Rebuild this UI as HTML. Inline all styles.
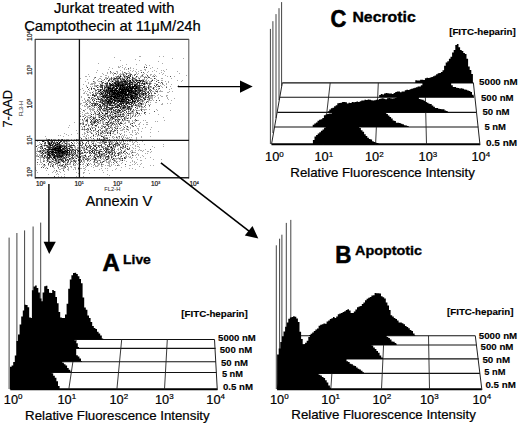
<!DOCTYPE html>
<html><head><meta charset="utf-8"><style>
html,body{margin:0;padding:0;background:#fff;}
svg{display:block;font-family:"Liberation Sans",sans-serif;}
</style></head><body>
<svg width="520" height="425" viewBox="0 0 520 425">
<rect width="520" height="425" fill="#fff"/>
<text x="54" y="13.2" font-size="14.2" stroke="#000" stroke-width="0.2" textLength="120.4" lengthAdjust="spacingAndGlyphs">Jurkat treated with</text>
<text x="24.2" y="31" font-size="14.2" stroke="#000" stroke-width="0.2" textLength="176.6" lengthAdjust="spacingAndGlyphs">Camptothecin at 11&#956;M/24h</text>
<path d="M139 56h1M140 56h1M159 56h1M163 56h1M114 57h1M172 58h1M183 58h1M135 59h1M120 60h1M139 60h1M158 61h1M98 63h1M162 63h1M126 64h1M136 64h1M145 64h1M122 65h1M146 65h1M149 65h1M118 66h1M120 66h1M144 66h1M109 67h1M118 67h1M119 67h1M122 67h1M125 67h1M130 67h1M152 67h1M112 68h1M124 68h1M130 68h1M133 68h1M150 68h1M157 68h1M108 69h1M124 69h1M126 69h1M128 69h1M136 69h1M144 69h1M145 69h1M166 69h1M97 70h1M120 70h1M130 70h1M133 70h1M140 70h1M141 70h1M145 70h1M154 70h1M161 70h1M163 70h1M116 71h1M117 71h1M122 71h1M128 71h1M132 71h1M135 71h1M138 71h1M148 71h1M152 71h1M156 71h1M164 71h1M177 71h1M96 72h1M107 72h1M110 72h1M111 72h1M113 72h1M117 72h1M122 72h1M125 72h1M129 72h1M136 72h1M147 72h1M161 72h1M102 73h1M107 73h1M110 73h1M112 73h1M117 73h1M120 73h1M122 73h1M123 73h1M125 73h1M127 73h1M128 73h1M129 73h1M130 73h1M136 73h1M138 73h1M144 73h1M159 73h1M163 73h1M179 73h1M88 74h1M103 74h1M113 74h1M116 74h1M119 74h1M120 74h1M121 74h1M122 74h1M124 74h1M129 74h1M134 74h1M137 74h1M142 74h1M143 74h1M146 74h1M150 74h1M151 74h1M154 74h1M162 74h1M105 75h1M106 75h1M113 75h1M118 75h1M124 75h1M125 75h1M129 75h1M132 75h1M141 75h1M150 75h1M153 75h1M155 75h1M165 75h1M186 75h1M85 76h1M86 76h1M89 76h1M100 76h1M101 76h1M108 76h1M115 76h1M116 76h1M119 76h1M121 76h1M123 76h1M125 76h1M128 76h1M129 76h1M132 76h1M137 76h1M140 76h1M141 76h1M142 76h1M143 76h1M145 76h1M147 76h1M148 76h1M152 76h1M153 76h1M156 76h1M167 76h1M174 76h1M94 77h1M105 77h1M106 77h1M108 77h1M113 77h1M114 77h1M117 77h1M118 77h1M120 77h1M122 77h1M125 77h1M126 77h1M133 77h1M135 77h1M136 77h1M138 77h1M140 77h1M145 77h1M80 78h1M94 78h1M99 78h1M100 78h1M105 78h1M106 78h1M109 78h1M110 78h1M112 78h1M113 78h1M121 78h1M123 78h1M124 78h1M125 78h1M126 78h1M130 78h1M135 78h1M138 78h1M144 78h1M147 78h1M150 78h1M151 78h1M155 78h1M161 78h1M162 78h1M171 78h1M87 79h1M93 79h1M98 79h1M101 79h1M106 79h1M110 79h1M115 79h1M116 79h1M118 79h1M121 79h1M127 79h1M128 79h1M129 79h1M131 79h1M133 79h1M134 79h1M139 79h1M142 79h1M143 79h1M144 79h1M146 79h1M152 79h1M156 79h1M97 80h1M102 80h1M103 80h1M111 80h1M112 80h1M113 80h1M114 80h1M116 80h1M120 80h1M122 80h1M126 80h1M128 80h1M134 80h1M145 80h1M146 80h1M148 80h1M151 80h1M154 80h1M157 80h1M161 80h1M162 80h1M177 80h1M182 80h1M85 81h1M94 81h1M98 81h1M99 81h1M100 81h1M105 81h1M110 81h1M111 81h1M113 81h1M119 81h1M131 81h1M132 81h1M137 81h1M138 81h1M139 81h1M141 81h1M145 81h1M146 81h1M147 81h1M149 81h1M150 81h1M165 81h1M168 81h1M181 81h1M88 82h1M94 82h1M95 82h1M101 82h1M106 82h1M109 82h1M111 82h1M113 82h1M123 82h1M133 82h1M140 82h1M144 82h1M145 82h1M147 82h1M149 82h1M150 82h1M159 82h1M162 82h1M168 82h1M88 83h1M91 83h1M92 83h1M93 83h1M94 83h1M95 83h1M99 83h1M101 83h1M104 83h1M113 83h1M131 83h1M133 83h1M134 83h1M135 83h1M140 83h1M145 83h1M148 83h1M151 83h1M154 83h1M155 83h1M160 83h1M166 83h1M83 84h1M90 84h1M91 84h1M92 84h1M94 84h1M101 84h1M102 84h1M105 84h1M114 84h1M133 84h1M141 84h1M145 84h1M147 84h1M150 84h1M162 84h1M163 84h1M166 84h1M171 84h1M79 85h1M86 85h1M94 85h1M95 85h1M96 85h1M98 85h1M103 85h1M104 85h1M105 85h1M108 85h1M128 85h1M144 85h1M149 85h1M158 85h1M160 85h1M164 85h1M178 85h1M86 86h1M90 86h1M92 86h1M94 86h1M95 86h1M99 86h1M105 86h1M111 86h1M112 86h1M140 86h1M145 86h1M146 86h1M149 86h1M151 86h1M157 86h1M161 86h1M166 86h1M170 86h1M177 86h1M91 87h1M98 87h1M111 87h1M118 87h1M134 87h1M142 87h1M145 87h1M146 87h1M147 87h1M149 87h1M150 87h1M151 87h1M154 87h1M156 87h1M162 87h1M82 88h1M89 88h1M105 88h1M106 88h1M118 88h1M140 88h1M141 88h1M149 88h1M152 88h1M158 88h1M171 88h1M80 89h1M94 89h1M95 89h1M99 89h1M103 89h1M105 89h1M113 89h1M136 89h1M141 89h1M143 89h1M148 89h1M149 89h1M153 89h1M154 89h1M158 89h1M169 89h1M83 90h1M89 90h1M98 90h1M99 90h1M101 90h1M120 90h1M143 90h1M144 90h1M146 90h1M150 90h1M155 90h1M157 90h1M160 90h1M85 91h1M87 91h1M93 91h1M95 91h1M100 91h1M101 91h1M103 91h1M141 91h1M145 91h1M146 91h1M147 91h1M152 91h1M153 91h1M155 91h1M159 91h1M160 91h1M161 91h1M162 91h1M169 91h1M172 91h1M79 92h1M84 92h1M89 92h1M90 92h1M95 92h1M96 92h1M97 92h1M98 92h1M102 92h1M104 92h1M136 92h1M144 92h1M150 92h1M151 92h1M154 92h1M157 92h1M167 92h1M168 92h1M83 93h1M84 93h1M86 93h1M90 93h1M93 93h1M96 93h1M98 93h1M100 93h1M104 93h1M106 93h1M127 93h1M148 93h1M87 94h1M88 94h1M95 94h1M99 94h1M103 94h1M133 94h1M138 94h1M140 94h1M144 94h1M146 94h1M151 94h1M158 94h1M87 95h1M88 95h1M90 95h1M99 95h1M100 95h1M138 95h1M141 95h1M142 95h1M144 95h1M145 95h1M147 95h1M148 95h1M150 95h1M153 95h1M154 95h1M157 95h1M160 95h1M166 95h1M167 95h1M81 96h1M95 96h1M98 96h1M99 96h1M100 96h1M126 96h1M129 96h1M141 96h1M146 96h1M149 96h1M150 96h1M151 96h1M152 96h1M155 96h1M161 96h1M162 96h1M166 96h1M81 97h1M91 97h1M93 97h1M98 97h1M99 97h1M100 97h1M112 97h1M139 97h1M140 97h1M142 97h1M144 97h1M146 97h1M149 97h1M150 97h1M151 97h1M152 97h1M154 97h1M158 97h1M167 97h1M84 98h1M89 98h1M93 98h1M94 98h1M97 98h1M100 98h1M102 98h1M103 98h1M108 98h1M113 98h1M128 98h1M129 98h1M137 98h1M140 98h1M145 98h1M148 98h1M150 98h1M151 98h1M152 98h1M158 98h1M167 98h1M174 98h1M79 99h1M84 99h1M87 99h1M88 99h1M90 99h1M93 99h1M94 99h1M97 99h1M103 99h1M104 99h1M129 99h1M130 99h1M135 99h1M137 99h1M142 99h1M148 99h1M152 99h1M168 99h1M82 100h1M85 100h1M88 100h1M89 100h1M107 100h1M111 100h1M134 100h1M136 100h1M140 100h1M141 100h1M143 100h1M144 100h1M148 100h1M149 100h1M150 100h1M151 100h1M153 100h1M171 100h1M85 101h1M86 101h1M88 101h1M89 101h1M90 101h1M97 101h1M99 101h1M101 101h1M129 101h1M130 101h1M131 101h1M140 101h1M141 101h1M143 101h1M146 101h1M148 101h1M83 102h1M84 102h1M85 102h1M87 102h1M89 102h1M93 102h1M94 102h1M96 102h1M116 102h1M133 102h1M135 102h1M137 102h1M140 102h1M142 102h1M144 102h1M148 102h1M150 102h1M155 102h1M156 102h1M80 103h1M81 103h1M89 103h1M98 103h1M101 103h1M112 103h1M117 103h1M124 103h1M133 103h1M135 103h1M139 103h1M142 103h1M143 103h1M145 103h1M162 103h1M167 103h1M170 103h1M79 104h1M80 104h1M85 104h1M86 104h1M90 104h1M96 104h1M102 104h1M105 104h1M106 104h1M108 104h1M111 104h1M112 104h1M116 104h1M128 104h1M136 104h1M137 104h1M138 104h1M139 104h1M140 104h1M142 104h1M143 104h1M145 104h1M148 104h1M150 104h1M161 104h1M162 104h1M82 105h1M84 105h1M86 105h1M89 105h1M93 105h1M99 105h1M103 105h1M108 105h1M115 105h1M116 105h1M125 105h1M126 105h1M133 105h1M134 105h1M137 105h1M139 105h1M140 105h1M141 105h1M84 106h1M85 106h1M87 106h1M88 106h1M90 106h1M92 106h1M93 106h1M94 106h1M97 106h1M102 106h1M103 106h1M105 106h1M111 106h1M112 106h1M113 106h1M118 106h1M122 106h1M126 106h1M130 106h1M136 106h1M137 106h1M138 106h1M140 106h1M142 106h1M149 106h1M87 107h1M88 107h1M91 107h1M96 107h1M99 107h1M110 107h1M121 107h1M126 107h1M130 107h1M131 107h1M132 107h1M137 107h1M139 107h1M141 107h1M142 107h1M143 107h1M145 107h1M80 108h1M87 108h1M89 108h1M90 108h1M92 108h1M93 108h1M97 108h1M100 108h1M107 108h1M114 108h1M117 108h1M119 108h1M121 108h1M125 108h1M126 108h1M136 108h1M141 108h1M81 109h1M85 109h1M89 109h1M90 109h1M91 109h1M92 109h1M93 109h1M94 109h1M97 109h1M98 109h1M103 109h1M104 109h1M105 109h1M112 109h1M117 109h1M119 109h1M122 109h1M123 109h1M124 109h1M125 109h1M127 109h1M129 109h1M131 109h1M135 109h1M140 109h1M142 109h1M143 109h1M144 109h1M145 109h1M146 109h1M149 109h1M156 109h1M84 110h1M90 110h1M92 110h1M93 110h1M99 110h1M102 110h1M106 110h1M108 110h1M110 110h1M111 110h1M123 110h1M128 110h1M132 110h1M133 110h1M134 110h1M137 110h1M138 110h1M139 110h1M144 110h1M157 110h1M170 110h1M80 111h1M84 111h1M90 111h1M96 111h1M100 111h1M101 111h1M103 111h1M104 111h1M105 111h1M106 111h1M108 111h1M112 111h1M113 111h1M114 111h1M118 111h1M120 111h1M121 111h1M129 111h1M131 111h1M133 111h1M136 111h1M142 111h1M82 112h1M87 112h1M91 112h1M94 112h1M95 112h1M97 112h1M102 112h1M105 112h1M108 112h1M109 112h1M110 112h1M112 112h1M114 112h1M115 112h1M116 112h1M119 112h1M128 112h1M130 112h1M131 112h1M132 112h1M133 112h1M80 113h1M85 113h1M86 113h1M87 113h1M88 113h1M90 113h1M94 113h1M98 113h1M103 113h1M112 113h1M116 113h1M117 113h1M118 113h1M120 113h1M122 113h1M125 113h1M131 113h1M132 113h1M133 113h1M135 113h1M138 113h1M141 113h1M149 113h1M82 114h1M84 114h1M95 114h1M96 114h1M99 114h1M100 114h1M101 114h1M103 114h1M104 114h1M106 114h1M107 114h1M109 114h1M110 114h1M111 114h1M113 114h1M115 114h1M116 114h1M117 114h1M119 114h1M121 114h1M124 114h1M126 114h1M128 114h1M130 114h1M133 114h1M135 114h1M136 114h1M139 114h1M145 114h1M158 114h1M80 115h1M84 115h1M85 115h1M88 115h1M89 115h1M90 115h1M95 115h1M98 115h1M100 115h1M103 115h1M105 115h1M108 115h1M112 115h1M114 115h1M116 115h1M117 115h1M118 115h1M119 115h1M122 115h1M123 115h1M124 115h1M126 115h1M127 115h1M130 115h1M132 115h1M133 115h1M138 115h1M140 115h1M82 116h1M86 116h1M87 116h1M90 116h1M93 116h1M95 116h1M98 116h1M99 116h1M100 116h1M103 116h1M104 116h1M106 116h1M108 116h1M109 116h1M110 116h1M112 116h1M114 116h1M117 116h1M120 116h1M125 116h1M126 116h1M130 116h1M134 116h1M135 116h1M137 116h1M79 117h1M87 117h1M88 117h1M89 117h1M92 117h1M94 117h1M98 117h1M100 117h1M105 117h1M107 117h1M110 117h1M113 117h1M114 117h1M120 117h1M121 117h1M125 117h1M126 117h1M128 117h1M130 117h1M131 117h1M163 117h1M87 118h1M89 118h1M91 118h1M95 118h1M102 118h1M103 118h1M105 118h1M111 118h1M114 118h1M117 118h1M118 118h1M121 118h1M123 118h1M125 118h1M126 118h1M128 118h1M80 119h1M84 119h1M86 119h1M93 119h1M94 119h1M95 119h1M97 119h1M98 119h1M101 119h1M105 119h1M110 119h1M111 119h1M114 119h1M117 119h1M120 119h1M125 119h1M79 120h1M82 120h1M83 120h1M85 120h1M93 120h1M94 120h1M98 120h1M101 120h1M102 120h1M107 120h1M110 120h1M111 120h1M118 120h1M119 120h1M123 120h1M124 120h1M125 120h1M126 120h1M128 120h1M129 120h1M132 120h1M134 120h1M135 120h1M137 120h1M138 120h1M143 120h1M145 120h1M164 120h1M79 121h1M83 121h1M85 121h1M86 121h1M90 121h1M92 121h1M93 121h1M97 121h1M98 121h1M99 121h1M100 121h1M102 121h1M103 121h1M109 121h1M111 121h1M114 121h1M115 121h1M116 121h1M117 121h1M121 121h1M123 121h1M128 121h1M129 121h1M132 121h1M135 121h1M155 121h1M157 121h1M74 122h1M82 122h1M83 122h1M87 122h1M91 122h1M92 122h1M100 122h1M102 122h1M103 122h1M105 122h1M112 122h1M113 122h1M115 122h1M117 122h1M118 122h1M121 122h1M125 122h1M128 122h1M129 122h1M133 122h1M134 122h1M140 122h1M146 122h1M147 122h1M81 123h1M82 123h1M87 123h1M92 123h1M93 123h1M96 123h1M98 123h1M99 123h1M100 123h1M102 123h1M103 123h1M105 123h1M109 123h1M111 123h1M114 123h1M119 123h1M122 123h1M124 123h1M125 123h1M130 123h1M131 123h1M134 123h1M139 123h1M80 124h1M82 124h1M85 124h1M88 124h1M90 124h1M93 124h1M104 124h1M105 124h1M109 124h1M111 124h1M115 124h1M116 124h1M117 124h1M123 124h1M138 124h1M139 124h1M143 124h1M146 124h1M147 124h1M69 125h1M79 125h1M85 125h1M86 125h1M89 125h1M94 125h1M101 125h1M102 125h1M106 125h1M108 125h1M110 125h1M113 125h1M115 125h1M117 125h1M125 125h1M131 125h1M81 126h1M83 126h1M88 126h1M91 126h1M95 126h1M96 126h1M98 126h1M101 126h1M102 126h1M104 126h1M109 126h1M110 126h1M111 126h1M115 126h1M116 126h1M117 126h1M118 126h1M123 126h1M126 126h1M132 126h1M136 126h1M139 126h1M68 127h1M82 127h1M84 127h1M89 127h1M91 127h1M92 127h1M93 127h1M94 127h1M100 127h1M102 127h1M105 127h1M108 127h1M111 127h1M112 127h1M115 127h1M117 127h1M121 127h1M127 127h1M128 127h1M130 127h1M145 127h1M151 127h1M82 128h1M84 128h1M88 128h1M102 128h1M105 128h1M106 128h1M108 128h1M111 128h1M112 128h1M116 128h1M119 128h1M120 128h1M123 128h1M126 128h1M130 128h1M137 128h1M138 128h1M142 128h1M81 129h1M83 129h1M85 129h1M87 129h1M99 129h1M100 129h1M105 129h1M107 129h1M114 129h1M116 129h1M122 129h1M123 129h1M124 129h1M126 129h1M128 129h1M138 129h1M150 129h1M76 130h1M84 130h1M87 130h1M88 130h1M94 130h1M95 130h1M102 130h1M103 130h1M104 130h1M105 130h1M107 130h1M109 130h1M110 130h1M120 130h1M121 130h1M122 130h1M128 130h1M132 130h1M134 130h1M135 130h1M138 130h1M86 131h1M87 131h1M89 131h1M90 131h1M93 131h1M96 131h1M98 131h1M101 131h1M105 131h1M106 131h1M108 131h1M111 131h1M112 131h1M114 131h1M117 131h1M124 131h1M126 131h1M132 131h1M141 131h1M158 131h1M84 132h1M88 132h1M90 132h1M91 132h1M95 132h1M100 132h1M101 132h1M103 132h1M105 132h1M106 132h1M108 132h1M109 132h1M113 132h1M124 132h1M129 132h1M132 132h1M135 132h1M137 132h1M150 132h1M64 133h1M77 133h1M79 133h1M84 133h1M85 133h1M92 133h1M98 133h1M103 133h1M104 133h1M105 133h1M108 133h1M109 133h1M112 133h1M113 133h1M117 133h1M119 133h1M121 133h1M136 133h1M138 133h1M66 134h1M71 134h1M82 134h1M84 134h1M87 134h1M93 134h1M95 134h1M96 134h1M100 134h1M102 134h1M110 134h1M114 134h1M115 134h1M124 134h1M130 134h1M131 134h1M135 134h1M136 134h1M58 135h1M60 135h1M68 135h1M86 135h1M88 135h1M97 135h1M98 135h1M99 135h1M100 135h1M101 135h1M104 135h1M105 135h1M108 135h1M122 135h1M124 135h1M126 135h1M132 135h1M45 136h1M63 136h1M83 136h1M84 136h1M86 136h1M91 136h1M93 136h1M95 136h1M97 136h1M103 136h1M104 136h1M112 136h1M113 136h1M116 136h1M118 136h1M121 136h1M123 136h1M141 136h1M150 136h1M80 137h1M85 137h1M88 137h1M104 137h1M105 137h1M106 137h1M107 137h1M109 137h1M112 137h1M114 137h1M117 137h1M119 137h1M121 137h1M123 137h1M125 137h1M127 137h1M129 137h1M131 137h1M136 137h1M141 137h1M46 138h1M85 138h1M88 138h1M91 138h1M103 138h1M105 138h1M113 138h1M117 138h1M119 138h1M126 138h1M127 138h1M128 138h1M136 138h1M46 139h1M47 139h1M53 139h1M54 139h1M55 139h1M59 139h1M64 139h1M66 139h1M67 139h1M68 139h1M71 139h1M74 139h1M77 139h1M78 139h1M81 139h1M83 139h1M86 139h1M94 139h1M98 139h1M100 139h1M102 139h1M105 139h1M107 139h1M114 139h1M116 139h1M118 139h1M123 139h1M129 139h1M131 139h1M132 139h1M136 139h1M36 140h1M39 140h1M41 140h1M42 140h1M46 140h1M48 140h1M51 140h1M53 140h1M55 140h1M57 140h1M60 140h1M62 140h1M63 140h1M65 140h1M68 140h1M71 140h1M74 140h1M77 140h1M84 140h1M88 140h1M93 140h1M98 140h1M104 140h1M105 140h1M112 140h1M114 140h1M121 140h1M126 140h1M127 140h1M129 140h1M131 140h1M133 140h1M138 140h1M147 140h1M37 141h1M44 141h1M50 141h1M56 141h1M65 141h1M67 141h1M68 141h1M69 141h1M73 141h1M76 141h1M80 141h1M81 141h1M82 141h1M87 141h1M91 141h1M92 141h1M93 141h1M94 141h1M96 141h1M100 141h1M104 141h1M105 141h1M106 141h1M108 141h1M109 141h1M111 141h1M112 141h1M114 141h1M119 141h1M121 141h1M125 141h1M127 141h1M129 141h1M130 141h1M132 141h1M135 141h1M136 141h1M142 141h1M39 142h1M44 142h1M47 142h1M50 142h1M55 142h1M62 142h1M63 142h1M66 142h1M67 142h1M74 142h1M77 142h1M80 142h1M88 142h1M91 142h1M93 142h1M97 142h1M98 142h1M99 142h1M100 142h1M101 142h1M102 142h1M103 142h1M108 142h1M110 142h1M111 142h1M112 142h1M113 142h1M115 142h1M116 142h1M119 142h1M120 142h1M121 142h1M123 142h1M132 142h1M134 142h1M137 142h1M40 143h1M42 143h1M47 143h1M56 143h1M61 143h1M64 143h1M67 143h1M68 143h1M69 143h1M74 143h1M76 143h1M78 143h1M82 143h1M85 143h1M86 143h1M95 143h1M99 143h1M100 143h1M102 143h1M103 143h1M112 143h1M118 143h1M123 143h1M125 143h1M127 143h1M133 143h1M39 144h1M40 144h1M44 144h1M45 144h1M51 144h1M61 144h1M63 144h1M64 144h1M67 144h1M68 144h1M71 144h1M73 144h1M79 144h1M80 144h1M89 144h1M91 144h1M93 144h1M95 144h1M96 144h1M104 144h1M106 144h1M108 144h1M111 144h1M112 144h1M113 144h1M116 144h1M117 144h1M121 144h1M123 144h1M124 144h1M126 144h1M127 144h1M128 144h1M132 144h1M133 144h1M137 144h1M139 144h1M144 144h1M163 144h1M37 145h1M38 145h1M41 145h1M42 145h1M43 145h1M48 145h1M53 145h1M65 145h1M67 145h1M77 145h1M79 145h1M82 145h1M86 145h1M87 145h1M90 145h1M96 145h1M97 145h1M105 145h1M112 145h1M116 145h1M118 145h1M122 145h1M123 145h1M130 145h1M135 145h1M42 146h1M44 146h1M46 146h1M55 146h1M67 146h1M71 146h1M74 146h1M75 146h1M79 146h1M81 146h1M83 146h1M84 146h1M89 146h1M99 146h1M102 146h1M103 146h1M104 146h1M110 146h1M114 146h1M117 146h1M120 146h1M122 146h1M135 146h1M137 146h1M138 146h1M152 146h1M163 146h1M38 147h1M39 147h1M40 147h1M41 147h1M46 147h1M62 147h1M63 147h1M65 147h1M67 147h1M69 147h1M74 147h1M75 147h1M77 147h1M78 147h1M80 147h1M81 147h1M83 147h1M84 147h1M86 147h1M88 147h1M89 147h1M97 147h1M101 147h1M103 147h1M106 147h1M107 147h1M108 147h1M112 147h1M113 147h1M114 147h1M115 147h1M122 147h1M123 147h1M124 147h1M129 147h1M132 147h1M139 147h1M154 147h1M37 148h1M41 148h1M51 148h1M71 148h1M72 148h1M75 148h1M77 148h1M78 148h1M80 148h1M82 148h1M83 148h1M89 148h1M94 148h1M104 148h1M108 148h1M110 148h1M111 148h1M113 148h1M114 148h1M118 148h1M120 148h1M123 148h1M126 148h1M133 148h1M135 148h1M37 149h1M41 149h1M65 149h1M71 149h1M74 149h1M75 149h1M77 149h1M80 149h1M83 149h1M84 149h1M85 149h1M87 149h1M92 149h1M96 149h1M99 149h1M117 149h1M118 149h1M125 149h1M129 149h1M139 149h1M145 149h1M37 150h1M39 150h1M41 150h1M45 150h1M46 150h1M49 150h1M50 150h1M63 150h1M73 150h1M79 150h1M80 150h1M83 150h1M87 150h1M88 150h1M94 150h1M98 150h1M99 150h1M100 150h1M107 150h1M108 150h1M110 150h1M114 150h1M118 150h1M124 150h1M125 150h1M131 150h1M132 150h1M135 150h1M138 150h1M140 150h1M141 150h1M143 150h1M36 151h1M37 151h1M41 151h1M42 151h1M44 151h1M45 151h1M46 151h1M54 151h1M72 151h1M77 151h1M84 151h1M85 151h1M88 151h1M96 151h1M98 151h1M102 151h1M103 151h1M107 151h1M110 151h1M112 151h1M116 151h1M120 151h1M121 151h1M123 151h1M125 151h1M130 151h1M132 151h1M142 151h1M147 151h1M148 151h1M151 151h1M35 152h1M39 152h1M40 152h1M41 152h1M44 152h1M50 152h1M70 152h1M72 152h1M73 152h1M79 152h1M80 152h1M81 152h1M86 152h1M93 152h1M97 152h1M102 152h1M107 152h1M111 152h1M113 152h1M115 152h1M118 152h1M120 152h1M131 152h1M133 152h1M134 152h1M135 152h1M150 152h1M36 153h1M40 153h1M42 153h1M44 153h1M46 153h1M54 153h1M68 153h1M70 153h1M72 153h1M74 153h1M77 153h1M78 153h1M83 153h1M86 153h1M90 153h1M95 153h1M96 153h1M100 153h1M101 153h1M102 153h1M106 153h1M107 153h1M108 153h1M111 153h1M114 153h1M119 153h1M120 153h1M121 153h1M122 153h1M124 153h1M125 153h1M129 153h1M131 153h1M137 153h1M145 153h1M147 153h1M37 154h1M39 154h1M43 154h1M46 154h1M50 154h1M71 154h1M73 154h1M75 154h1M76 154h1M77 154h1M79 154h1M85 154h1M90 154h1M94 154h1M97 154h1M100 154h1M103 154h1M104 154h1M105 154h1M109 154h1M110 154h1M119 154h1M120 154h1M125 154h1M128 154h1M129 154h1M132 154h1M136 154h1M138 154h1M36 155h1M37 155h1M39 155h1M40 155h1M51 155h1M65 155h1M67 155h1M75 155h1M79 155h1M81 155h1M82 155h1M83 155h1M89 155h1M92 155h1M95 155h1M96 155h1M97 155h1M100 155h1M102 155h1M103 155h1M105 155h1M110 155h1M111 155h1M113 155h1M115 155h1M116 155h1M117 155h1M121 155h1M123 155h1M126 155h1M133 155h1M135 155h1M138 155h1M142 155h1M36 156h1M37 156h1M40 156h1M41 156h1M45 156h1M46 156h1M51 156h1M52 156h1M66 156h1M67 156h1M68 156h1M70 156h1M74 156h1M75 156h1M76 156h1M78 156h1M81 156h1M82 156h1M83 156h1M86 156h1M89 156h1M91 156h1M93 156h1M96 156h1M99 156h1M101 156h1M102 156h1M103 156h1M104 156h1M105 156h1M109 156h1M112 156h1M113 156h1M120 156h1M125 156h1M126 156h1M128 156h1M130 156h1M143 156h1M39 157h1M40 157h1M41 157h1M42 157h1M44 157h1M45 157h1M56 157h1M62 157h1M65 157h1M67 157h1M73 157h1M74 157h1M75 157h1M77 157h1M79 157h1M82 157h1M86 157h1M88 157h1M90 157h1M93 157h1M97 157h1M98 157h1M99 157h1M101 157h1M103 157h1M106 157h1M107 157h1M109 157h1M112 157h1M118 157h1M120 157h1M125 157h1M126 157h1M129 157h1M130 157h1M132 157h1M136 157h1M140 157h1M150 157h1M40 158h1M43 158h1M46 158h1M51 158h1M53 158h1M56 158h1M58 158h1M59 158h1M61 158h1M66 158h1M71 158h1M75 158h1M79 158h1M80 158h1M82 158h1M83 158h1M84 158h1M85 158h1M86 158h1M88 158h1M89 158h1M90 158h1M92 158h1M93 158h1M98 158h1M102 158h1M103 158h1M107 158h1M109 158h1M111 158h1M114 158h1M115 158h1M116 158h1M117 158h1M118 158h1M120 158h1M121 158h1M131 158h1M145 158h1M37 159h1M38 159h1M40 159h1M43 159h1M48 159h1M49 159h1M50 159h1M57 159h1M63 159h1M66 159h1M68 159h1M70 159h1M71 159h1M72 159h1M74 159h1M82 159h1M87 159h1M89 159h1M91 159h1M92 159h1M93 159h1M96 159h1M101 159h1M103 159h1M104 159h1M108 159h1M110 159h1M113 159h1M114 159h1M116 159h1M119 159h1M120 159h1M122 159h1M137 159h1M153 159h1M161 159h1M35 160h1M40 160h1M43 160h1M44 160h1M46 160h1M48 160h1M51 160h1M53 160h1M54 160h1M57 160h1M59 160h1M60 160h1M67 160h1M70 160h1M71 160h1M75 160h1M76 160h1M79 160h1M80 160h1M83 160h1M84 160h1M88 160h1M95 160h1M96 160h1M97 160h1M98 160h1M100 160h1M104 160h1M105 160h1M106 160h1M109 160h1M110 160h1M113 160h1M115 160h1M120 160h1M121 160h1M124 160h1M132 160h1M140 160h1M141 160h1M40 161h1M44 161h1M48 161h1M50 161h1M51 161h1M53 161h1M55 161h1M57 161h1M59 161h1M60 161h1M61 161h1M65 161h1M67 161h1M70 161h1M72 161h1M73 161h1M76 161h1M80 161h1M83 161h1M84 161h1M87 161h1M89 161h1M93 161h1M100 161h1M102 161h1M104 161h1M106 161h1M108 161h1M109 161h1M110 161h1M114 161h1M115 161h1M116 161h1M117 161h1M119 161h1M126 161h1M132 161h1M134 161h1M40 162h1M41 162h1M46 162h1M51 162h1M53 162h1M55 162h1M56 162h1M57 162h1M60 162h1M64 162h1M65 162h1M68 162h1M73 162h1M82 162h1M84 162h1M93 162h1M94 162h1M95 162h1M97 162h1M101 162h1M106 162h1M107 162h1M108 162h1M109 162h1M111 162h1M122 162h1M130 162h1M134 162h1M136 162h1M42 163h1M51 163h1M52 163h1M55 163h1M58 163h1M60 163h1M65 163h1M66 163h1M67 163h1M69 163h1M70 163h1M73 163h1M74 163h1M76 163h1M78 163h1M79 163h1M83 163h1M86 163h1M90 163h1M94 163h1M97 163h1M98 163h1M99 163h1M101 163h1M108 163h1M109 163h1M114 163h1M117 163h1M121 163h1M135 163h1M141 163h1M37 164h1M39 164h1M41 164h1M43 164h1M50 164h1M51 164h1M57 164h1M59 164h1M60 164h1M62 164h1M66 164h1M68 164h1M69 164h1M70 164h1M75 164h1M77 164h1M82 164h1M83 164h1M89 164h1M91 164h1M98 164h1M99 164h1M102 164h1M103 164h1M109 164h1M111 164h1M113 164h1M118 164h1M132 164h1M134 164h1M137 164h1M140 164h1M43 165h1M44 165h1M45 165h1M48 165h1M50 165h1M53 165h1M57 165h1M58 165h1M60 165h1M64 165h1M65 165h1M66 165h1M73 165h1M74 165h1M75 165h1M79 165h1M85 165h1M88 165h1M93 165h1M95 165h1M97 165h1M98 165h1M101 165h1M105 165h1M107 165h1M108 165h1M109 165h1M111 165h1M115 165h1M118 165h1M119 165h1M129 165h1M130 165h1M150 165h1M153 165h1M42 166h1M44 166h1M53 166h1M57 166h1M60 166h1M61 166h1M62 166h1M63 166h1M65 166h1M70 166h1M71 166h1M83 166h1M86 166h1M91 166h1M95 166h1M96 166h1M97 166h1M101 166h1M102 166h1M109 166h1M110 166h1M125 166h1M139 166h1M35 167h1M46 167h1M53 167h1M63 167h1M64 167h1M68 167h1M71 167h1M74 167h1M75 167h1M78 167h1M85 167h1M93 167h1M121 167h1M143 167h1M35 168h1M45 168h1M54 168h1M58 168h1M61 168h1M62 168h1M63 168h1M64 168h1M68 168h1M75 168h1M80 168h1M81 168h1M83 168h1M84 168h1M101 168h1M105 168h1M107 168h1M116 168h1M129 168h1M132 168h1M35 169h1M59 169h1M60 169h1M63 169h1M67 169h1M68 169h1M73 169h1M75 169h1M78 169h1M85 169h1M99 169h1M115 169h1M135 169h1M36 170h1M46 170h1M54 170h1M68 170h1M84 170h1M88 170h1M94 170h1M102 170h1M107 170h1M112 170h1M120 170h1M53 171h1M56 171h1M57 171h1M59 171h1M64 171h1M37 172h1M52 172h1M55 172h1M60 172h1M76 172h1M83 172h1M84 172h1M103 172h1M57 173h1M78 173h1M79 173h1M83 173h1M89 173h1M48 174h1M56 174h1M58 174h1M64 174h1M107 174h1M109 175h1M58 176h1M61 176h1M64 176h1M76 176h1M83 176h1M52 177h1M54 177h1M65 177h1M66 177h1M76 177h1M87 177h1M104 177h1" stroke="#aaaaaa" stroke-width="1" transform="translate(0,0.5)"/>
<path d="M144 67h1M128 68h1M110 71h1M124 72h1M141 72h1M143 72h1M114 73h1M115 73h1M126 73h1M123 74h1M126 74h1M130 74h1M131 74h1M135 74h1M120 75h1M123 75h1M134 75h1M142 75h1M147 75h1M117 76h1M118 76h1M127 76h1M154 76h1M170 76h1M95 77h1M111 77h1M116 77h1M124 77h1M127 77h1M144 77h1M146 77h1M148 77h1M149 77h1M107 78h1M111 78h1M116 78h1M117 78h1M119 78h1M120 78h1M122 78h1M129 78h1M132 78h1M133 78h1M134 78h1M139 78h1M104 79h1M109 79h1M111 79h1M114 79h1M117 79h1M122 79h1M135 79h1M136 79h1M109 80h1M115 80h1M117 80h1M118 80h1M121 80h1M123 80h1M124 80h1M133 80h1M135 80h1M138 80h1M140 80h1M142 80h1M158 80h1M93 81h1M108 81h1M115 81h1M120 81h1M126 81h1M127 81h1M128 81h1M129 81h1M134 81h1M142 81h1M144 81h1M151 81h1M156 81h1M102 82h1M103 82h1M107 82h1M116 82h1M134 82h1M142 82h1M158 82h1M161 82h1M102 83h1M106 83h1M110 83h1M116 83h1M120 83h1M121 83h1M124 83h1M127 83h1M130 83h1M136 83h1M141 83h1M143 83h1M147 83h1M149 83h1M150 83h1M162 83h1M100 84h1M106 84h1M107 84h1M109 84h1M112 84h1M128 84h1M137 84h1M139 84h1M143 84h1M149 84h1M156 84h1M157 84h1M97 85h1M100 85h1M107 85h1M109 85h1M125 85h1M132 85h1M136 85h1M137 85h1M141 85h1M148 85h1M154 85h1M156 85h1M96 86h1M100 86h1M101 86h1M102 86h1M104 86h1M107 86h1M108 86h1M109 86h1M114 86h1M117 86h1M119 86h1M121 86h1M125 86h1M131 86h1M138 86h1M143 86h1M148 86h1M150 86h1M155 86h1M158 86h1M100 87h1M101 87h1M104 87h1M106 87h1M128 87h1M140 87h1M141 87h1M144 87h1M153 87h1M166 87h1M93 88h1M94 88h1M107 88h1M114 88h1M144 88h1M146 88h1M159 88h1M88 89h1M91 89h1M97 89h1M98 89h1M101 89h1M102 89h1M104 89h1M107 89h1M109 89h1M129 89h1M137 89h1M140 89h1M142 89h1M144 89h1M145 89h1M150 89h1M156 89h1M95 90h1M96 90h1M105 90h1M118 90h1M134 90h1M137 90h1M145 90h1M149 90h1M151 90h1M113 91h1M115 91h1M137 91h1M138 91h1M142 91h1M143 91h1M148 91h1M150 91h1M156 91h1M157 91h1M92 92h1M101 92h1M106 92h1M108 92h1M110 92h1M116 92h1M141 92h1M142 92h1M147 92h1M95 93h1M97 93h1M103 93h1M110 93h1M137 93h1M139 93h1M140 93h1M141 93h1M142 93h1M144 93h1M151 93h1M154 93h1M155 93h1M92 94h1M93 94h1M96 94h1M101 94h1M104 94h1M105 94h1M123 94h1M132 94h1M134 94h1M141 94h1M93 95h1M95 95h1M96 95h1M102 95h1M108 95h1M110 95h1M113 95h1M137 95h1M140 95h1M146 95h1M149 95h1M151 95h1M152 95h1M97 96h1M104 96h1M106 96h1M107 96h1M108 96h1M133 96h1M136 96h1M142 96h1M88 97h1M89 97h1M92 97h1M97 97h1M102 97h1M120 97h1M124 97h1M135 97h1M141 97h1M143 97h1M147 97h1M148 97h1M91 98h1M95 98h1M104 98h1M109 98h1M124 98h1M127 98h1M138 98h1M144 98h1M149 98h1M92 99h1M100 99h1M101 99h1M106 99h1M112 99h1M115 99h1M116 99h1M118 99h1M120 99h1M125 99h1M136 99h1M138 99h1M141 99h1M147 99h1M149 99h1M87 100h1M92 100h1M100 100h1M101 100h1M103 100h1M104 100h1M113 100h1M120 100h1M133 100h1M138 100h1M139 100h1M142 100h1M156 100h1M159 100h1M93 101h1M98 101h1M102 101h1M104 101h1M105 101h1M106 101h1M116 101h1M128 101h1M138 101h1M142 101h1M147 101h1M90 102h1M99 102h1M100 102h1M101 102h1M104 102h1M105 102h1M106 102h1M109 102h1M112 102h1M121 102h1M123 102h1M125 102h1M129 102h1M136 102h1M139 102h1M86 103h1M91 103h1M92 103h1M93 103h1M94 103h1M96 103h1M97 103h1M104 103h1M105 103h1M106 103h1M114 103h1M115 103h1M125 103h1M128 103h1M132 103h1M87 104h1M92 104h1M94 104h1M100 104h1M114 104h1M117 104h1M118 104h1M119 104h1M123 104h1M125 104h1M129 104h1M131 104h1M135 104h1M91 105h1M92 105h1M95 105h1M96 105h1M104 105h1M105 105h1M106 105h1M107 105h1M113 105h1M114 105h1M121 105h1M122 105h1M123 105h1M131 105h1M132 105h1M136 105h1M138 105h1M145 105h1M149 105h1M89 106h1M101 106h1M104 106h1M106 106h1M117 106h1M120 106h1M121 106h1M123 106h1M124 106h1M127 106h1M128 106h1M132 106h1M139 106h1M141 106h1M144 106h1M94 107h1M100 107h1M101 107h1M104 107h1M107 107h1M109 107h1M111 107h1M114 107h1M116 107h1M118 107h1M122 107h1M127 107h1M129 107h1M99 108h1M103 108h1M104 108h1M105 108h1M106 108h1M109 108h1M122 108h1M124 108h1M128 108h1M129 108h1M130 108h1M131 108h1M137 108h1M99 109h1M100 109h1M102 109h1M107 109h1M108 109h1M110 109h1M113 109h1M115 109h1M116 109h1M126 109h1M133 109h1M141 109h1M83 110h1M97 110h1M100 110h1M103 110h1M105 110h1M107 110h1M114 110h1M115 110h1M117 110h1M118 110h1M122 110h1M125 110h1M130 110h1M136 110h1M94 111h1M98 111h1M109 111h1M115 111h1M116 111h1M117 111h1M122 111h1M123 111h1M126 111h1M128 111h1M154 111h1M99 112h1M101 112h1M107 112h1M113 112h1M120 112h1M121 112h1M124 112h1M126 112h1M136 112h1M137 112h1M144 112h1M145 112h1M95 113h1M110 113h1M123 113h1M127 113h1M128 113h1M129 113h1M130 113h1M139 113h1M144 113h1M93 114h1M97 114h1M98 114h1M105 114h1M112 114h1M118 114h1M122 114h1M123 114h1M99 115h1M102 115h1M107 115h1M109 115h1M115 115h1M120 115h1M135 115h1M80 116h1M83 116h1M105 116h1M111 116h1M122 116h1M132 116h1M85 117h1M90 117h1M93 117h1M95 117h1M103 117h1M108 117h1M115 117h1M124 117h1M84 118h1M94 118h1M108 118h1M110 118h1M112 118h1M124 118h1M130 118h1M82 119h1M87 119h1M90 119h1M92 119h1M102 119h1M103 119h1M106 119h1M109 119h1M112 119h1M115 119h1M116 119h1M118 119h1M124 119h1M135 119h1M87 120h1M104 120h1M109 120h1M117 120h1M122 120h1M127 120h1M87 121h1M91 121h1M95 121h1M96 121h1M113 121h1M93 122h1M95 122h1M97 122h1M98 122h1M107 122h1M108 122h1M110 122h1M111 122h1M120 122h1M80 123h1M83 123h1M91 123h1M94 123h1M107 123h1M110 123h1M112 123h1M113 123h1M116 123h1M118 123h1M120 123h1M83 124h1M86 124h1M91 124h1M92 124h1M97 124h1M103 124h1M106 124h1M107 124h1M108 124h1M112 124h1M114 124h1M130 124h1M88 125h1M92 125h1M107 125h1M111 125h1M120 125h1M132 125h1M135 125h1M103 126h1M105 126h1M133 126h1M98 127h1M110 127h1M114 127h1M124 127h1M87 128h1M90 128h1M92 128h1M95 128h1M101 128h1M107 128h1M109 128h1M115 128h1M82 129h1M84 129h1M86 129h1M88 129h1M95 129h1M106 129h1M112 129h1M127 129h1M91 130h1M93 130h1M100 130h1M106 130h1M111 130h1M114 130h1M115 130h1M117 130h1M97 131h1M102 131h1M104 131h1M110 131h1M113 131h1M87 132h1M98 132h1M102 132h1M107 132h1M110 132h1M117 132h1M91 133h1M96 133h1M100 133h1M101 133h1M120 134h1M106 135h1M110 135h1M102 136h1M119 136h1M90 137h1M116 137h1M81 138h1M86 138h1M93 138h1M97 138h1M99 138h1M104 138h1M106 138h1M107 138h1M122 138h1M48 139h1M49 139h1M51 139h1M58 139h1M61 139h1M76 139h1M97 139h1M99 139h1M101 139h1M103 139h1M104 139h1M109 139h1M122 139h1M130 139h1M38 140h1M44 140h1M45 140h1M56 140h1M61 140h1M64 140h1M78 140h1M91 140h1M95 140h1M99 140h1M109 140h1M110 140h1M113 140h1M117 140h1M47 141h1M51 141h1M54 141h1M58 141h1M63 141h1M64 141h1M66 141h1M88 141h1M102 141h1M103 141h1M110 141h1M116 141h1M123 141h1M52 142h1M53 142h1M54 142h1M56 142h1M60 142h1M64 142h1M86 142h1M104 142h1M106 142h1M109 142h1M117 142h1M44 143h1M45 143h1M50 143h1M54 143h1M57 143h1M62 143h1M66 143h1M79 143h1M80 143h1M83 143h1M88 143h1M92 143h1M93 143h1M104 143h1M111 143h1M115 143h1M116 143h1M120 143h1M124 143h1M48 144h1M53 144h1M58 144h1M60 144h1M66 144h1M69 144h1M82 144h1M85 144h1M101 144h1M105 144h1M110 144h1M115 144h1M118 144h1M119 144h1M122 144h1M45 145h1M47 145h1M49 145h1M56 145h1M57 145h1M58 145h1M62 145h1M63 145h1M64 145h1M69 145h1M70 145h1M72 145h1M74 145h1M80 145h1M81 145h1M94 145h1M95 145h1M98 145h1M99 145h1M100 145h1M101 145h1M109 145h1M115 145h1M117 145h1M119 145h1M125 145h1M40 146h1M47 146h1M48 146h1M49 146h1M50 146h1M52 146h1M61 146h1M63 146h1M66 146h1M69 146h1M70 146h1M86 146h1M88 146h1M90 146h1M91 146h1M94 146h1M101 146h1M107 146h1M109 146h1M111 146h1M115 146h1M125 146h1M127 146h1M42 147h1M47 147h1M52 147h1M54 147h1M70 147h1M72 147h1M82 147h1M90 147h1M93 147h1M99 147h1M102 147h1M105 147h1M110 147h1M120 147h1M121 147h1M125 147h1M40 148h1M44 148h1M48 148h1M50 148h1M64 148h1M66 148h1M67 148h1M68 148h1M84 148h1M86 148h1M92 148h1M93 148h1M103 148h1M105 148h1M106 148h1M107 148h1M122 148h1M127 148h1M129 148h1M43 149h1M45 149h1M46 149h1M66 149h1M69 149h1M70 149h1M76 149h1M91 149h1M95 149h1M100 149h1M101 149h1M103 149h1M105 149h1M106 149h1M108 149h1M109 149h1M111 149h1M112 149h1M120 149h1M127 149h1M128 149h1M150 149h1M40 150h1M42 150h1M43 150h1M44 150h1M47 150h1M51 150h1M53 150h1M64 150h1M66 150h1M69 150h1M70 150h1M71 150h1M72 150h1M74 150h1M78 150h1M84 150h1M89 150h1M90 150h1M93 150h1M95 150h1M96 150h1M97 150h1M111 150h1M112 150h1M113 150h1M121 150h1M38 151h1M39 151h1M43 151h1M48 151h1M56 151h1M73 151h1M80 151h1M89 151h1M100 151h1M105 151h1M106 151h1M108 151h1M109 151h1M111 151h1M114 151h1M46 152h1M47 152h1M68 152h1M74 152h1M75 152h1M77 152h1M82 152h1M85 152h1M89 152h1M90 152h1M94 152h1M106 152h1M109 152h1M112 152h1M114 152h1M119 152h1M121 152h1M126 152h1M132 152h1M41 153h1M45 153h1M47 153h1M51 153h1M66 153h1M71 153h1M73 153h1M79 153h1M80 153h1M81 153h1M82 153h1M89 153h1M91 153h1M93 153h1M98 153h1M103 153h1M104 153h1M115 153h1M117 153h1M127 153h1M42 154h1M60 154h1M61 154h1M64 154h1M65 154h1M68 154h1M70 154h1M74 154h1M80 154h1M95 154h1M96 154h1M99 154h1M102 154h1M111 154h1M112 154h1M114 154h1M118 154h1M41 155h1M42 155h1M44 155h1M47 155h1M63 155h1M64 155h1M68 155h1M69 155h1M71 155h1M72 155h1M77 155h1M84 155h1M94 155h1M101 155h1M104 155h1M114 155h1M132 155h1M38 156h1M42 156h1M53 156h1M63 156h1M65 156h1M69 156h1M72 156h1M77 156h1M79 156h1M85 156h1M94 156h1M106 156h1M111 156h1M121 156h1M43 157h1M46 157h1M47 157h1M50 157h1M55 157h1M60 157h1M63 157h1M68 157h1M71 157h1M72 157h1M78 157h1M83 157h1M84 157h1M94 157h1M100 157h1M105 157h1M108 157h1M44 158h1M47 158h1M49 158h1M52 158h1M57 158h1M60 158h1M62 158h1M63 158h1M64 158h1M65 158h1M70 158h1M72 158h1M87 158h1M96 158h1M100 158h1M105 158h1M108 158h1M119 158h1M124 158h1M125 158h1M52 159h1M53 159h1M56 159h1M58 159h1M62 159h1M69 159h1M78 159h1M80 159h1M83 159h1M85 159h1M86 159h1M88 159h1M95 159h1M47 160h1M56 160h1M58 160h1M62 160h1M66 160h1M73 160h1M74 160h1M81 160h1M87 160h1M90 160h1M94 160h1M99 160h1M114 160h1M43 161h1M47 161h1M49 161h1M56 161h1M58 161h1M63 161h1M64 161h1M68 161h1M71 161h1M74 161h1M75 161h1M81 161h1M94 161h1M97 161h1M37 162h1M50 162h1M54 162h1M70 162h1M75 162h1M80 162h1M96 162h1M100 162h1M102 162h1M113 162h1M116 162h1M48 163h1M56 163h1M57 163h1M88 163h1M48 164h1M53 164h1M55 164h1M63 164h1M67 164h1M73 164h1M80 164h1M94 164h1M101 164h1M125 164h1M52 165h1M59 165h1M61 165h1M87 165h1M117 165h1M50 166h1M52 166h1M64 166h1M67 166h1M79 166h1M41 167h1M43 167h1M58 167h1M65 167h1M47 168h1M56 170h1M63 170h1M54 176h1" stroke="#555555" stroke-width="1" transform="translate(0,0.5)"/>
<path d="M146 67h1M128 75h1M130 75h1M124 76h1M126 76h1M130 76h1M136 76h1M119 77h1M128 77h1M129 77h1M132 77h1M114 78h1M115 78h1M118 78h1M154 78h1M113 79h1M120 79h1M123 79h1M124 79h1M126 79h1M132 79h1M108 80h1M125 80h1M127 80h1M129 80h1M132 80h1M136 80h1M137 80h1M141 80h1M143 80h1M152 80h1M101 81h1M116 81h1M117 81h1M118 81h1M121 81h1M122 81h1M123 81h1M130 81h1M133 81h1M136 81h1M143 81h1M114 82h1M115 82h1M117 82h1M118 82h1M119 82h1M120 82h1M121 82h1M122 82h1M124 82h1M125 82h1M126 82h1M127 82h1M129 82h1M130 82h1M132 82h1M135 82h1M137 82h1M139 82h1M146 82h1M105 83h1M107 83h1M112 83h1M114 83h1M117 83h1M119 83h1M122 83h1M123 83h1M125 83h1M126 83h1M128 83h1M132 83h1M137 83h1M139 83h1M142 83h1M146 83h1M110 84h1M113 84h1M115 84h1M117 84h1M119 84h1M120 84h1M121 84h1M123 84h1M124 84h1M127 84h1M129 84h1M130 84h1M131 84h1M132 84h1M134 84h1M135 84h1M136 84h1M144 84h1M101 85h1M102 85h1M106 85h1M111 85h1M113 85h1M114 85h1M115 85h1M116 85h1M119 85h1M124 85h1M130 85h1M138 85h1M139 85h1M140 85h1M142 85h1M106 86h1M110 86h1M113 86h1M123 86h1M124 86h1M126 86h1M127 86h1M130 86h1M135 86h1M137 86h1M139 86h1M159 86h1M87 87h1M97 87h1M102 87h1M105 87h1M107 87h1M109 87h1M110 87h1M112 87h1M114 87h1M116 87h1M117 87h1M119 87h1M121 87h1M122 87h1M125 87h1M131 87h1M135 87h1M137 87h1M138 87h1M139 87h1M148 87h1M91 88h1M102 88h1M104 88h1M111 88h1M113 88h1M115 88h1M121 88h1M123 88h1M125 88h1M127 88h1M129 88h1M133 88h1M137 88h1M138 88h1M139 88h1M142 88h1M145 88h1M148 88h1M153 88h1M100 89h1M106 89h1M110 89h1M111 89h1M114 89h1M116 89h1M118 89h1M130 89h1M132 89h1M134 89h1M135 89h1M138 89h1M139 89h1M146 89h1M104 90h1M107 90h1M108 90h1M109 90h1M124 90h1M126 90h1M132 90h1M133 90h1M138 90h1M139 90h1M141 90h1M142 90h1M98 91h1M99 91h1M102 91h1M104 91h1M105 91h1M106 91h1M107 91h1M108 91h1M109 91h1M117 91h1M119 91h1M126 91h1M130 91h1M133 91h1M134 91h1M136 91h1M139 91h1M140 91h1M144 91h1M100 92h1M103 92h1M105 92h1M111 92h1M124 92h1M128 92h1M132 92h1M134 92h1M135 92h1M137 92h1M138 92h1M139 92h1M145 92h1M148 92h1M99 93h1M102 93h1M107 93h1M108 93h1M111 93h1M112 93h1M119 93h1M126 93h1M129 93h1M130 93h1M131 93h1M132 93h1M136 93h1M138 93h1M145 93h1M146 93h1M149 93h1M100 94h1M102 94h1M106 94h1M107 94h1M110 94h1M111 94h1M115 94h1M120 94h1M121 94h1M129 94h1M131 94h1M139 94h1M142 94h1M143 94h1M145 94h1M148 94h1M92 95h1M94 95h1M103 95h1M104 95h1M105 95h1M107 95h1M109 95h1M112 95h1M114 95h1M116 95h1M118 95h1M122 95h1M124 95h1M128 95h1M129 95h1M130 95h1M133 95h1M134 95h1M135 95h1M136 95h1M139 95h1M143 95h1M94 96h1M101 96h1M102 96h1M109 96h1M116 96h1M120 96h1M122 96h1M124 96h1M125 96h1M127 96h1M128 96h1M134 96h1M137 96h1M139 96h1M140 96h1M145 96h1M148 96h1M103 97h1M104 97h1M105 97h1M106 97h1M109 97h1M110 97h1M111 97h1M117 97h1M118 97h1M119 97h1M121 97h1M127 97h1M129 97h1M130 97h1M132 97h1M134 97h1M136 97h1M137 97h1M138 97h1M145 97h1M98 98h1M101 98h1M106 98h1M107 98h1M112 98h1M115 98h1M119 98h1M121 98h1M123 98h1M126 98h1M130 98h1M132 98h1M134 98h1M135 98h1M139 98h1M143 98h1M96 99h1M98 99h1M99 99h1M102 99h1M105 99h1M107 99h1M108 99h1M109 99h1M110 99h1M114 99h1M117 99h1M119 99h1M134 99h1M140 99h1M144 99h1M145 99h1M94 100h1M102 100h1M105 100h1M108 100h1M110 100h1M112 100h1M116 100h1M117 100h1M122 100h1M123 100h1M124 100h1M125 100h1M126 100h1M129 100h1M130 100h1M135 100h1M137 100h1M96 101h1M100 101h1M103 101h1M109 101h1M111 101h1M114 101h1M115 101h1M117 101h1M118 101h1M124 101h1M125 101h1M126 101h1M127 101h1M133 101h1M135 101h1M137 101h1M102 102h1M107 102h1M110 102h1M113 102h1M117 102h1M118 102h1M120 102h1M122 102h1M124 102h1M126 102h1M127 102h1M131 102h1M132 102h1M134 102h1M146 102h1M95 103h1M102 103h1M103 103h1M107 103h1M108 103h1M109 103h1M110 103h1M111 103h1M113 103h1M116 103h1M119 103h1M120 103h1M121 103h1M122 103h1M127 103h1M129 103h1M131 103h1M134 103h1M138 103h1M140 103h1M141 103h1M95 104h1M97 104h1M99 104h1M103 104h1M104 104h1M107 104h1M109 104h1M110 104h1M115 104h1M120 104h1M126 104h1M130 104h1M133 104h1M141 104h1M94 105h1M98 105h1M100 105h1M102 105h1M109 105h1M110 105h1M111 105h1M117 105h1M119 105h1M127 105h1M135 105h1M99 106h1M100 106h1M107 106h1M115 106h1M116 106h1M125 106h1M131 106h1M98 107h1M106 107h1M108 107h1M112 107h1M113 107h1M115 107h1M120 107h1M124 107h1M125 107h1M128 107h1M135 107h1M101 108h1M110 108h1M111 108h1M112 108h1M120 108h1M123 108h1M127 108h1M106 109h1M109 109h1M111 109h1M118 109h1M121 109h1M128 109h1M130 109h1M104 110h1M113 110h1M120 110h1M124 110h1M141 110h1M107 111h1M111 111h1M119 111h1M132 111h1M111 112h1M117 112h1M118 112h1M105 113h1M107 113h1M114 113h1M137 113h1M91 114h1M120 114h1M104 115h1M110 115h1M128 115h1M91 116h1M107 116h1M113 116h1M115 116h1M116 116h1M118 116h1M119 116h1M121 116h1M123 116h1M99 117h1M102 117h1M111 117h1M112 117h1M117 117h1M93 118h1M101 118h1M104 118h1M113 118h1M127 118h1M96 119h1M99 119h1M119 119h1M122 119h1M86 120h1M91 120h1M95 120h1M97 120h1M100 120h1M115 120h1M136 120h1M94 121h1M108 121h1M118 121h1M79 122h1M90 122h1M94 122h1M106 122h1M121 123h1M132 123h1M119 124h1M95 125h1M96 125h1M84 126h1M108 126h1M127 126h1M104 127h1M117 128h1M90 129h1M98 130h1M107 133h1M98 134h1M93 135h1M101 136h1M103 137h1M62 139h1M54 140h1M42 141h1M43 141h1M48 141h1M52 141h1M60 141h1M61 141h1M45 142h1M48 142h1M49 142h1M51 142h1M71 142h1M82 142h1M105 142h1M48 143h1M53 143h1M55 143h1M58 143h1M59 143h1M65 143h1M72 143h1M109 143h1M117 143h1M41 144h1M50 144h1M52 144h1M55 144h1M56 144h1M59 144h1M109 144h1M114 144h1M44 145h1M46 145h1M51 145h1M52 145h1M54 145h1M59 145h1M60 145h1M61 145h1M66 145h1M71 145h1M73 145h1M85 145h1M89 145h1M93 145h1M107 145h1M113 145h1M36 146h1M41 146h1M53 146h1M54 146h1M56 146h1M58 146h1M62 146h1M64 146h1M65 146h1M68 146h1M95 146h1M98 146h1M108 146h1M113 146h1M123 146h1M48 147h1M49 147h1M50 147h1M51 147h1M53 147h1M56 147h1M57 147h1M58 147h1M61 147h1M71 147h1M87 147h1M96 147h1M42 148h1M45 148h1M49 148h1M52 148h1M53 148h1M62 148h1M65 148h1M90 148h1M96 148h1M112 148h1M47 149h1M48 149h1M50 149h1M56 149h1M57 149h1M59 149h1M61 149h1M62 149h1M63 149h1M64 149h1M67 149h1M72 149h1M73 149h1M86 149h1M94 149h1M107 149h1M114 149h1M48 150h1M52 150h1M54 150h1M62 150h1M75 150h1M77 150h1M81 150h1M92 150h1M104 150h1M106 150h1M40 151h1M49 151h1M51 151h1M55 151h1M57 151h1M61 151h1M65 151h1M67 151h1M71 151h1M75 151h1M78 151h1M91 151h1M92 151h1M94 151h1M99 151h1M101 151h1M124 151h1M45 152h1M49 152h1M53 152h1M57 152h1M59 152h1M60 152h1M64 152h1M65 152h1M66 152h1M69 152h1M71 152h1M84 152h1M87 152h1M92 152h1M96 152h1M98 152h1M99 152h1M105 152h1M108 152h1M110 152h1M123 152h1M43 153h1M48 153h1M49 153h1M50 153h1M52 153h1M53 153h1M55 153h1M56 153h1M57 153h1M58 153h1M60 153h1M61 153h1M63 153h1M65 153h1M67 153h1M69 153h1M75 153h1M94 153h1M99 153h1M109 153h1M112 153h1M118 153h1M47 154h1M49 154h1M51 154h1M53 154h1M56 154h1M57 154h1M58 154h1M59 154h1M62 154h1M63 154h1M67 154h1M69 154h1M72 154h1M101 154h1M106 154h1M45 155h1M48 155h1M50 155h1M52 155h1M53 155h1M54 155h1M55 155h1M56 155h1M57 155h1M58 155h1M60 155h1M61 155h1M73 155h1M76 155h1M85 155h1M90 155h1M99 155h1M108 155h1M118 155h1M44 156h1M47 156h1M49 156h1M50 156h1M55 156h1M56 156h1M58 156h1M59 156h1M62 156h1M80 156h1M88 156h1M97 156h1M98 156h1M100 156h1M107 156h1M108 156h1M115 156h1M48 157h1M49 157h1M51 157h1M57 157h1M58 157h1M59 157h1M61 157h1M64 157h1M66 157h1M80 157h1M95 157h1M111 157h1M124 157h1M48 158h1M54 158h1M55 158h1M69 158h1M73 158h1M76 158h1M95 158h1M113 158h1M122 158h1M47 159h1M55 159h1M59 159h1M60 159h1M61 159h1M65 159h1M67 159h1M94 159h1M106 159h1M107 159h1M112 159h1M55 160h1M61 160h1M63 160h1M65 160h1M68 160h1M78 160h1M122 160h1M52 161h1M62 161h1M103 161h1M49 162h1M59 162h1M63 162h1M67 162h1M44 164h1M65 164h1M87 164h1M62 165h1M78 168h1" stroke="#2a2a2a" stroke-width="1" transform="translate(0,0.5)"/>
<path d="M120 76h1M127 78h1M130 80h1M139 80h1M112 81h1M124 81h1M125 81h1M140 81h1M131 82h1M138 82h1M109 83h1M115 83h1M118 83h1M129 83h1M144 83h1M111 84h1M116 84h1M118 84h1M122 84h1M125 84h1M126 84h1M110 85h1M112 85h1M117 85h1M118 85h1M120 85h1M121 85h1M122 85h1M123 85h1M127 85h1M129 85h1M134 85h1M135 85h1M115 86h1M116 86h1M118 86h1M120 86h1M122 86h1M128 86h1M129 86h1M132 86h1M133 86h1M134 86h1M136 86h1M144 86h1M108 87h1M113 87h1M120 87h1M123 87h1M124 87h1M126 87h1M127 87h1M129 87h1M130 87h1M132 87h1M133 87h1M136 87h1M143 87h1M108 88h1M109 88h1M110 88h1M112 88h1M116 88h1M117 88h1M119 88h1M120 88h1M122 88h1M124 88h1M126 88h1M128 88h1M130 88h1M131 88h1M132 88h1M134 88h1M135 88h1M136 88h1M108 89h1M112 89h1M115 89h1M119 89h1M120 89h1M121 89h1M122 89h1M123 89h1M124 89h1M125 89h1M126 89h1M127 89h1M128 89h1M131 89h1M100 90h1M103 90h1M106 90h1M110 90h1M111 90h1M112 90h1M113 90h1M114 90h1M115 90h1M116 90h1M117 90h1M119 90h1M121 90h1M122 90h1M123 90h1M125 90h1M127 90h1M128 90h1M129 90h1M130 90h1M131 90h1M135 90h1M136 90h1M140 90h1M110 91h1M111 91h1M112 91h1M114 91h1M116 91h1M118 91h1M120 91h1M121 91h1M122 91h1M123 91h1M124 91h1M125 91h1M127 91h1M128 91h1M129 91h1M131 91h1M132 91h1M135 91h1M107 92h1M109 92h1M112 92h1M113 92h1M114 92h1M115 92h1M117 92h1M118 92h1M119 92h1M120 92h1M121 92h1M122 92h1M123 92h1M125 92h1M126 92h1M129 92h1M130 92h1M131 92h1M133 92h1M101 93h1M105 93h1M109 93h1M113 93h1M114 93h1M115 93h1M116 93h1M117 93h1M118 93h1M120 93h1M121 93h1M122 93h1M123 93h1M124 93h1M125 93h1M128 93h1M133 93h1M134 93h1M135 93h1M143 93h1M109 94h1M112 94h1M113 94h1M114 94h1M116 94h1M117 94h1M118 94h1M119 94h1M122 94h1M124 94h1M125 94h1M126 94h1M127 94h1M128 94h1M130 94h1M135 94h1M136 94h1M137 94h1M106 95h1M111 95h1M115 95h1M117 95h1M119 95h1M120 95h1M121 95h1M123 95h1M125 95h1M126 95h1M127 95h1M131 95h1M132 95h1M103 96h1M105 96h1M110 96h1M111 96h1M112 96h1M113 96h1M114 96h1M115 96h1M117 96h1M118 96h1M119 96h1M121 96h1M123 96h1M130 96h1M131 96h1M132 96h1M135 96h1M107 97h1M108 97h1M113 97h1M114 97h1M115 97h1M116 97h1M122 97h1M123 97h1M125 97h1M126 97h1M128 97h1M131 97h1M133 97h1M110 98h1M111 98h1M114 98h1M116 98h1M117 98h1M118 98h1M120 98h1M122 98h1M125 98h1M131 98h1M133 98h1M136 98h1M111 99h1M113 99h1M121 99h1M122 99h1M123 99h1M124 99h1M126 99h1M127 99h1M128 99h1M131 99h1M132 99h1M106 100h1M109 100h1M114 100h1M115 100h1M118 100h1M119 100h1M121 100h1M128 100h1M132 100h1M107 101h1M108 101h1M110 101h1M112 101h1M119 101h1M120 101h1M121 101h1M122 101h1M123 101h1M132 101h1M134 101h1M108 102h1M111 102h1M114 102h1M128 102h1M130 102h1M123 103h1M126 103h1M121 104h1M112 105h1M118 105h1M124 105h1M119 106h1M129 106h1M117 107h1M123 107h1M119 110h1M99 113h1M102 113h1M106 113h1M115 113h1M101 116h1M110 133h1M57 142h1M59 142h1M49 143h1M51 143h1M49 144h1M57 144h1M50 145h1M55 145h1M57 146h1M59 146h1M60 146h1M55 147h1M59 147h1M60 147h1M64 147h1M66 147h1M111 147h1M54 148h1M55 148h1M56 148h1M57 148h1M58 148h1M59 148h1M60 148h1M63 148h1M69 148h1M49 149h1M51 149h1M52 149h1M53 149h1M54 149h1M55 149h1M58 149h1M60 149h1M55 150h1M56 150h1M57 150h1M58 150h1M59 150h1M60 150h1M61 150h1M65 150h1M67 150h1M68 150h1M47 151h1M50 151h1M52 151h1M53 151h1M58 151h1M59 151h1M60 151h1M62 151h1M63 151h1M64 151h1M66 151h1M69 151h1M42 152h1M48 152h1M51 152h1M52 152h1M54 152h1M55 152h1M56 152h1M58 152h1M61 152h1M62 152h1M63 152h1M67 152h1M59 153h1M62 153h1M64 153h1M48 154h1M52 154h1M54 154h1M66 154h1M49 155h1M59 155h1M62 155h1M66 155h1M54 156h1M57 156h1M60 156h1M61 156h1M53 157h1M54 157h1M58 162h1" stroke="#000000" stroke-width="1" transform="translate(0,0.5)"/>
<line x1="35" y1="39.3" x2="189" y2="39.3" stroke="#444" stroke-width="1.2"/>
<line x1="35.2" y1="39" x2="35.2" y2="178.5" stroke="#444" stroke-width="1.2"/>
<line x1="188.8" y1="39" x2="188.8" y2="178.5" stroke="#555" stroke-width="1.0"/>
<line x1="35" y1="177.8" x2="189" y2="177.8" stroke="#222" stroke-width="1.4"/>
<line x1="79.4" y1="39" x2="79.4" y2="178" stroke="#111" stroke-width="1.3"/>
<line x1="35" y1="140.4" x2="189" y2="140.4" stroke="#111" stroke-width="1.4"/>
<text x="36" y="185.5" font-size="6.5" fill="#111" stroke="#111" stroke-width="0.2">10<tspan font-size="3.6" dy="-2">0</tspan></text>
<text x="74.5" y="185.5" font-size="6.5" fill="#111" stroke="#111" stroke-width="0.2">10<tspan font-size="3.6" dy="-2">1</tspan></text>
<text x="113" y="185.5" font-size="6.5" fill="#111" stroke="#111" stroke-width="0.2">10<tspan font-size="3.6" dy="-2">2</tspan></text>
<text x="151" y="185.5" font-size="6.5" fill="#111" stroke="#111" stroke-width="0.2">10<tspan font-size="3.6" dy="-2">3</tspan></text>
<text x="189.5" y="185.5" font-size="6.5" fill="#111" stroke="#111" stroke-width="0.2">10<tspan font-size="3.6" dy="-2">4</tspan></text>
<text x="104.3" y="191" font-size="5.2" fill="#222" textLength="16" lengthAdjust="spacingAndGlyphs">FL2-H</text>
<text transform="translate(32.4,177) rotate(-90)" font-size="6.8" fill="#111" stroke="#111" stroke-width="0.2">10<tspan font-size="4" dy="-2.3">0</tspan></text>
<text transform="translate(32.4,145) rotate(-90)" font-size="6.8" fill="#111" stroke="#111" stroke-width="0.2">10<tspan font-size="4" dy="-2.3">1</tspan></text>
<text transform="translate(32.4,108.5) rotate(-90)" font-size="6.8" fill="#111" stroke="#111" stroke-width="0.2">10<tspan font-size="4" dy="-2.3">2</tspan></text>
<text transform="translate(32.4,75) rotate(-90)" font-size="6.8" fill="#111" stroke="#111" stroke-width="0.2">10<tspan font-size="4" dy="-2.3">3</tspan></text>
<text transform="translate(32.4,41) rotate(-90)" font-size="6.8" fill="#111" stroke="#111" stroke-width="0.2">10<tspan font-size="4" dy="-2.3">4</tspan></text>
<text transform="translate(22.8,116.3) rotate(-90)" font-size="5.2" fill="#222" textLength="15.2" lengthAdjust="spacingAndGlyphs">FL3-H</text>
<text x="85.4" y="206.2" font-size="14.6" stroke="#000" stroke-width="0.2" textLength="66.9" lengthAdjust="spacingAndGlyphs">Annexin V</text>
<text transform="translate(11.9,127.6) rotate(-90)" font-size="12.7" stroke="#000" stroke-width="0.2" textLength="37.6" lengthAdjust="spacingAndGlyphs">7-AAD</text>
<line x1="178" y1="86.6" x2="241" y2="86.6" stroke="#000" stroke-width="1.4"/>
<path d="M240,80.5 252.7,86.6 240,92.8Z" fill="#000"/>
<line x1="48.9" y1="184" x2="48.9" y2="243" stroke="#000" stroke-width="1.4"/>
<path d="M43.6,241.7 55.8,241.7 49.2,254Z" fill="#000"/>
<line x1="160.9" y1="162.9" x2="250" y2="231.9" stroke="#000" stroke-width="1.6"/>
<path d="M258.3,238.4 252.5,226.1 244.8,235.6Z" fill="#000"/>
<line x1="270.4" y1="28.9" x2="270.4" y2="144" stroke="#444" stroke-width="1.0"/>
<line x1="272.9" y1="21.2" x2="272.9" y2="133" stroke="#444" stroke-width="1.0"/>
<line x1="276" y1="14.1" x2="276" y2="118" stroke="#444" stroke-width="1.0"/>
<line x1="279" y1="8.2" x2="279" y2="100" stroke="#444" stroke-width="1.0"/>
<line x1="281.6" y1="2.1" x2="281.6" y2="86" stroke="#444" stroke-width="1.0"/>
<line x1="271.5" y1="144.3" x2="480" y2="144.3" stroke="#000" stroke-width="1.9"/>
<line x1="274.7" y1="127" x2="478.3" y2="127" stroke="#111" stroke-width="1.1"/>
<line x1="277.3" y1="112.4" x2="476.2" y2="112.4" stroke="#111" stroke-width="1.1"/>
<line x1="279.6" y1="97.3" x2="474" y2="97.3" stroke="#111" stroke-width="1.1"/>
<line x1="282.3" y1="82.9" x2="473.4" y2="82.9" stroke="#111" stroke-width="1.1"/>
<line x1="271.5" y1="144.3" x2="282.3" y2="82.9" stroke="#222" stroke-width="1.0"/>
<line x1="480" y1="145.1" x2="473.4" y2="82.9" stroke="#222" stroke-width="1.0"/>
<line x1="323.2" y1="144.3" x2="330.2" y2="82.9" stroke="#222" stroke-width="0.9"/>
<line x1="375.6" y1="144.3" x2="378.3" y2="82.9" stroke="#222" stroke-width="0.9"/>
<line x1="426.5" y1="144.3" x2="425" y2="82.9" stroke="#222" stroke-width="0.9"/>
<path d="M415.3,82.9 415.3,80.2 416.9,80.2 416.9,80.5 418.5,80.5 418.5,80.5 420.1,80.5 420.1,79.8 421.7,79.8 421.7,79.8 423.3,79.8 423.3,79.9 424.9,79.9 424.9,78.3 426.5,78.3 426.5,77.8 428.1,77.8 428.1,78.1 429.7,78.1 429.7,77.4 431.3,77.4 431.3,77 432.9,77 432.9,76.2 434.5,76.2 434.5,75.4 436.1,75.4 436.1,74.2 437.7,74.2 437.7,73.2 439.3,73.2 439.3,72.9 440.9,72.9 440.9,72.1 442.5,72.1 442.5,70.2 444.1,70.2 444.1,65.7 445.7,65.7 445.7,62.6 447.3,62.6 447.3,61.2 448.9,61.2 448.9,58.7 450.5,58.7 450.5,56.7 452.1,56.7 452.1,52.6 453.7,52.6 453.7,50 455.3,50 455.3,45.1 456.9,45.1 456.9,44 458.5,44 458.5,47.3 460.1,47.3 460.1,50.1 461.7,50.1 461.7,51 463.3,51 463.3,53.1 464.9,53.1 464.9,53.9 466.5,53.9 466.5,58.8 468.1,58.8 468.1,66.4 469.7,66.4 469.7,70 471.3,70 471.3,73.9 472.9,73.9 472.9,82.1 473.1,82.1 473.1,82.9ZM379.2,97.3 379.2,94.9 380.8,94.9 380.8,94.1 382.4,94.1 382.4,94.4 384,94.4 384,93.4 385.6,93.4 385.6,93.1 387.2,93.1 387.2,93.3 388.8,93.3 388.8,93.4 390.4,93.4 390.4,93.5 392,93.5 392,93.9 393.6,93.9 393.6,93 395.2,93 395.2,92.1 396.8,92.1 396.8,91.6 398.4,91.6 398.4,91.6 400,91.6 400,92.3 401.6,92.3 401.6,91.5 403.2,91.5 403.2,91.4 404.8,91.4 404.8,90.2 406.4,90.2 406.4,89.7 408,89.7 408,89.9 409.6,89.9 409.6,89.3 411.2,89.3 411.2,88.7 412.8,88.7 412.8,88.3 414.4,88.3 414.4,87.7 416,87.7 416,87.2 417.6,87.2 417.6,86.5 419.2,86.5 419.2,86.6 420.8,86.6 420.8,85.2 422.4,85.2 422.4,83.1 424,83.1 424,82.2 425.6,82.2 425.6,81.7 427.2,81.7 427.2,81.6 428.8,81.6 428.8,82.1 430.4,82.1 430.4,82.4 432,82.4 432,81.5 433.6,81.5 433.6,82.3 435.2,82.3 435.2,81.7 436.8,81.7 436.8,81.6 438.4,81.6 438.4,81.5 440,81.5 440,81.8 441.6,81.8 441.6,82.2 443.2,82.2 443.2,82 444.8,82 444.8,82.4 446.4,82.4 446.4,81.7 448,81.7 448,81.8 449.6,81.8 449.6,82.2 451.2,82.2 451.2,85.2 452.8,85.2 452.8,87 454.4,87 454.4,87 456,87 456,87.8 457.6,87.8 457.6,87.9 459.2,87.9 459.2,88.6 460.8,88.6 460.8,88.2 462.4,88.2 462.4,88.7 464,88.7 464,89.4 465.6,89.4 465.6,89.7 467.2,89.7 467.2,90.6 468.8,90.6 468.8,90.9 470.4,90.9 470.4,92 472,92 472,94.7 473.6,94.7 473.6,96.6 474,96.6 474,97.3ZM327.7,112.4 327.7,111.2 329.3,111.2 329.3,109.4 330.9,109.4 330.9,108.2 332.5,108.2 332.5,107.7 334.1,107.7 334.1,106.3 335.7,106.3 335.7,105.3 337.3,105.3 337.3,103.2 338.9,103.2 338.9,103 340.5,103 340.5,102.7 342.1,102.7 342.1,102 343.7,102 343.7,102.1 345.3,102.1 345.3,102.2 346.9,102.2 346.9,103.4 348.5,103.4 348.5,102.7 350.1,102.7 350.1,103 351.7,103 351.7,102.1 353.3,102.1 353.3,102.2 354.9,102.2 354.9,102 356.5,102 356.5,101.5 358.1,101.5 358.1,101.9 359.7,101.9 359.7,101.3 361.3,101.3 361.3,100.6 362.9,100.6 362.9,100.6 364.5,100.6 364.5,99.7 366.1,99.7 366.1,99.9 367.7,99.9 367.7,99.4 369.3,99.4 369.3,99.8 370.9,99.8 370.9,100.3 372.5,100.3 372.5,100.5 374.1,100.5 374.1,100.3 375.7,100.3 375.7,99.7 377.3,99.7 377.3,99.7 378.9,99.7 378.9,99.1 380.5,99.1 380.5,98.5 382.1,98.5 382.1,98.3 383.7,98.3 383.7,98.7 385.3,98.7 385.3,99.2 386.9,99.2 386.9,98.3 388.5,98.3 388.5,98 390.1,98 390.1,98.3 391.7,98.3 391.7,98.6 393.3,98.6 393.3,98.3 394.9,98.3 394.9,97.9 396.5,97.9 396.5,96.8 398.1,96.8 398.1,96.8 399.7,96.8 399.7,96.7 401.3,96.7 401.3,96.1 402.9,96.1 402.9,96.5 404.5,96.5 404.5,96 406.1,96 406.1,96.8 407.7,96.8 407.7,96.7 409.3,96.7 409.3,96.8 410.9,96.8 410.9,96.8 412.5,96.8 412.5,96.3 414.1,96.3 414.1,96.8 415.7,96.8 415.7,96.2 417.3,96.2 417.3,96.1 418.9,96.1 418.9,98.9 420.5,98.9 420.5,99.5 422.1,99.5 422.1,99.8 423.7,99.8 423.7,100.7 425.3,100.7 425.3,101.9 426.9,101.9 426.9,102.7 428.5,102.7 428.5,103.7 430.1,103.7 430.1,104.1 431.7,104.1 431.7,105.6 433.3,105.6 433.3,106.8 434.9,106.8 434.9,107.9 436.5,107.9 436.5,108 438.1,108 438.1,108.7 439.7,108.7 439.7,109.1 441.3,109.1 441.3,109.2 442.9,109.2 442.9,109.2 444.5,109.2 444.5,110.6 446.1,110.6 446.1,111 447.7,111 447.7,111.9 449,111.9 449,112.4ZM312.7,127 312.7,124.8 314.3,124.8 314.3,123.4 315.9,123.4 315.9,122.4 317.5,122.4 317.5,120.8 319.1,120.8 319.1,119.8 320.7,119.8 320.7,119.3 322.3,119.3 322.3,118.1 323.9,118.1 323.9,115.3 325.5,115.3 325.5,114.4 327.1,114.4 327.1,114.1 328.7,114.1 328.7,113.4 330.3,113.4 330.3,113.4 331.9,113.4 331.9,111.3 333.5,111.3 333.5,111.7 335.1,111.7 335.1,111.4 336.7,111.4 336.7,111.2 338.3,111.2 338.3,111.9 339.9,111.9 339.9,111.7 341.5,111.7 341.5,111.7 343.1,111.7 343.1,111.6 344.7,111.6 344.7,111.8 346.3,111.8 346.3,111.4 347.9,111.4 347.9,111.6 349.5,111.6 349.5,111.1 351.1,111.1 351.1,111.6 352.7,111.6 352.7,111.8 354.3,111.8 354.3,111.7 355.9,111.7 355.9,111.8 357.5,111.8 357.5,111.5 359.1,111.5 359.1,111.9 360.7,111.9 360.7,111.1 362.3,111.1 362.3,111.9 363.9,111.9 363.9,111.4 365.5,111.4 365.5,111.1 367.1,111.1 367.1,111.6 368.7,111.6 368.7,111.5 370.3,111.5 370.3,111.4 371.9,111.4 371.9,111.9 373.5,111.9 373.5,111.1 375.1,111.1 375.1,111.6 376.7,111.6 376.7,111.4 378.3,111.4 378.3,111.5 379.9,111.5 379.9,111.5 381.5,111.5 381.5,111.1 383.1,111.1 383.1,111.5 384.7,111.5 384.7,112.8 386.3,112.8 386.3,114 387.9,114 387.9,115.4 389.5,115.4 389.5,116.9 391.1,116.9 391.1,118.6 392.7,118.6 392.7,120.5 394.3,120.5 394.3,121.1 395.9,121.1 395.9,122.7 397.5,122.7 397.5,122.8 399.1,122.8 399.1,123 400.7,123 400.7,123.8 402.3,123.8 402.3,124.2 403.9,124.2 403.9,125.2 405.5,125.2 405.5,125.5 407.1,125.5 407.1,126 408.7,126 408.7,126.9 409,126.9 409,127ZM312.9,144.3 312.9,140.1 314.5,140.1 314.5,136.6 316.1,136.6 316.1,134.9 317.7,134.9 317.7,133.5 319.3,133.5 319.3,132.2 320.9,132.2 320.9,130.8 322.5,130.8 322.5,129.5 324.1,129.5 324.1,128 325.7,128 325.7,125.6 327.3,125.6 327.3,125.7 328.9,125.7 328.9,125.9 330.5,125.9 330.5,126 332.1,126 332.1,125.6 333.7,125.6 333.7,125.6 335.3,125.6 335.3,125.7 336.9,125.7 336.9,125.9 338.5,125.9 338.5,126.2 340.1,126.2 340.1,126.1 341.7,126.1 341.7,125.5 343.3,125.5 343.3,125.5 344.9,125.5 344.9,126 346.5,126 346.5,126.4 348.1,126.4 348.1,126.4 349.7,126.4 349.7,125.9 351.3,125.9 351.3,126.4 352.9,126.4 352.9,126.4 354.5,126.4 354.5,125.9 356.1,125.9 356.1,126.2 357.7,126.2 357.7,126.4 359.3,126.4 359.3,128 360.9,128 360.9,130.3 362.5,130.3 362.5,131.7 364.1,131.7 364.1,134.3 365.7,134.3 365.7,136 367.3,136 367.3,137.8 368.9,137.8 368.9,138.9 370.5,138.9 370.5,139.5 372.1,139.5 372.1,141.2 373.7,141.2 373.7,141.9 375.3,141.9 375.3,142.7 376.9,142.7 376.9,143 378.5,143 378.5,144.1 379,144.1 379,144.3Z" fill="#000"/>
<line x1="9.1" y1="237.6" x2="9.1" y2="389" stroke="#444" stroke-width="1.0"/>
<line x1="16.9" y1="233" x2="16.9" y2="372.5" stroke="#444" stroke-width="1.0"/>
<line x1="24.6" y1="230.4" x2="24.6" y2="361.7" stroke="#444" stroke-width="1.0"/>
<line x1="33.1" y1="226.5" x2="33.1" y2="348.4" stroke="#444" stroke-width="1.0"/>
<line x1="40.7" y1="222.6" x2="40.7" y2="339.5" stroke="#444" stroke-width="1.0"/>
<line x1="10.3" y1="389.3" x2="217.3" y2="389.3" stroke="#000" stroke-width="1.9"/>
<line x1="17.5" y1="372.5" x2="216.6" y2="372.5" stroke="#111" stroke-width="1.1"/>
<line x1="25" y1="361.7" x2="216" y2="361.7" stroke="#111" stroke-width="1.1"/>
<line x1="33" y1="348.4" x2="215.6" y2="348.4" stroke="#111" stroke-width="1.1"/>
<line x1="41" y1="339.5" x2="214.5" y2="339.5" stroke="#111" stroke-width="1.1"/>
<line x1="10.3" y1="389.3" x2="41" y2="339.5" stroke="#222" stroke-width="1.0"/>
<line x1="217.3" y1="390.1" x2="214.5" y2="339.5" stroke="#222" stroke-width="1.0"/>
<line x1="68.8" y1="389.3" x2="76.2" y2="339.5" stroke="#222" stroke-width="0.9"/>
<line x1="116.9" y1="389.3" x2="121.7" y2="339.5" stroke="#222" stroke-width="0.9"/>
<line x1="164.5" y1="389.3" x2="167.3" y2="339.5" stroke="#222" stroke-width="0.9"/>
<path d="M41,339.5 41,338.9 42.6,338.9 42.6,337.8 44.2,337.8 44.2,336.6 45.8,336.6 45.8,335.1 47.4,335.1 47.4,333.7 49,333.7 49,332.6 50.6,332.6 50.6,331.8 52.2,331.8 52.2,330.2 53.8,330.2 53.8,329.3 55.4,329.3 55.4,327.9 57,327.9 57,326.6 58.6,326.6 58.6,325.9 60.2,325.9 60.2,323.2 61.8,323.2 61.8,321.1 63.4,321.1 63.4,318.5 65,318.5 65,314.6 66.6,314.6 66.6,303.8 68.2,303.8 68.2,288.8 69.8,288.8 69.8,279.6 71.4,279.6 71.4,275.2 73,275.2 73,273 74.6,273 74.6,272.8 76.2,272.8 76.2,273.9 77.8,273.9 77.8,276.3 79.4,276.3 79.4,279.1 81,279.1 81,283.2 82.6,283.2 82.6,297.4 84.2,297.4 84.2,307.4 85.8,307.4 85.8,309.7 87.4,309.7 87.4,315.4 89,315.4 89,318.1 90.6,318.1 90.6,322 92.2,322 92.2,325.9 93.8,325.9 93.8,328.1 95.4,328.1 95.4,329.1 97,329.1 97,331.7 98.6,331.7 98.6,333.4 100.2,333.4 100.2,335.6 101.8,335.6 101.8,338.5 103.2,338.5 103.2,339.5ZM33,348.4 33,345.8 34.6,345.8 34.6,340.9 36.2,340.9 36.2,335.4 37.8,335.4 37.8,330.2 39.4,330.2 39.4,325.3 41,325.3 41,319.7 42.6,319.7 42.6,314.4 44.2,314.4 44.2,309.8 45.8,309.8 45.8,304.5 47.4,304.5 47.4,299.9 49,299.9 49,295.5 50.6,295.5 50.6,293.1 52.2,293.1 52.2,290 53.8,290 53.8,290.9 55.4,290.9 55.4,297 57,297 57,303.3 58.6,303.3 58.6,311.9 60.2,311.9 60.2,317.4 61.8,317.4 61.8,318.1 63.4,318.1 63.4,318 65,318 65,319.8 66.6,319.8 66.6,323.9 68.2,323.9 68.2,327.4 69.8,327.4 69.8,331.2 71.4,331.2 71.4,335.6 73,335.6 73,339 74.6,339 74.6,340.5 76.2,340.5 76.2,343.3 77.8,343.3 77.8,346.9 79,346.9 79,348.4ZM25,361.7 25,358.8 26.6,358.8 26.6,353 28.2,353 28.2,348 29.8,348 29.8,342.5 31.4,342.5 31.4,337.1 33,337.1 33,331.8 34.6,331.8 34.6,325.7 36.2,325.7 36.2,320.5 37.8,320.5 37.8,314.8 39.4,314.8 39.4,308.7 41,308.7 41,301.2 42.6,301.2 42.6,292.5 44.2,292.5 44.2,286.3 45.8,286.3 45.8,285.7 47.4,285.7 47.4,289 49,289 49,292.8 50.6,292.8 50.6,297.5 52.2,297.5 52.2,302 53.8,302 53.8,305.9 55.4,305.9 55.4,309.9 57,309.9 57,313.3 58.6,313.3 58.6,317.1 60.2,317.1 60.2,321 61.8,321 61.8,324 63.4,324 63.4,328.3 65,328.3 65,330.9 66.6,330.9 66.6,333.7 68.2,333.7 68.2,336.9 69.8,336.9 69.8,339.5 71.4,339.5 71.4,341.9 73,341.9 73,344.5 74.6,344.5 74.6,348.3 76.2,348.3 76.2,355.3 77.8,355.3 77.8,356.6 79.4,356.6 79.4,358.4 81,358.4 81,361.1 82,361.1 82,361.7ZM17.5,372.5 17.5,369.3 19.1,369.3 19.1,364.7 20.7,364.7 20.7,358.5 22.3,358.5 22.3,353.9 23.9,353.9 23.9,347.7 25.5,347.7 25.5,342.4 27.1,342.4 27.1,337.2 28.7,337.2 28.7,331.5 30.3,331.5 30.3,317.9 31.9,317.9 31.9,290.3 33.5,290.3 33.5,286.6 35.1,286.6 35.1,285.6 36.7,285.6 36.7,288.1 38.3,288.1 38.3,292.6 39.9,292.6 39.9,298.5 41.5,298.5 41.5,301.7 43.1,301.7 43.1,305.6 44.7,305.6 44.7,309.4 46.3,309.4 46.3,312.3 47.9,312.3 47.9,315.9 49.5,315.9 49.5,319.8 51.1,319.8 51.1,323.4 52.7,323.4 52.7,326.8 54.3,326.8 54.3,330.1 55.9,330.1 55.9,337.2 57.5,337.2 57.5,344.8 59.1,344.8 59.1,351.7 60.7,351.7 60.7,359 62.3,359 62.3,362.7 63.9,362.7 63.9,364.2 65.5,364.2 65.5,365.5 67.1,365.5 67.1,367.9 68.7,367.9 68.7,369.8 70.3,369.8 70.3,371.5 71.5,371.5 71.5,372.5ZM10,389.3 10,366.7 11.6,366.7 11.6,365.4 13.2,365.4 13.2,361.9 14.8,361.9 14.8,355.4 16.4,355.4 16.4,340.9 18,340.9 18,334.4 19.6,334.4 19.6,324.6 21.2,324.6 21.2,316.4 22.8,316.4 22.8,310.6 24.4,310.6 24.4,304.7 26,304.7 26,304.9 27.6,304.9 27.6,307.2 29.2,307.2 29.2,317.5 30.8,317.5 30.8,325.7 32.4,325.7 32.4,331.9 34,331.9 34,339.1 35.6,339.1 35.6,342.8 37.2,342.8 37.2,346.3 38.8,346.3 38.8,349.6 40.4,349.6 40.4,352.1 42,352.1 42,355.7 43.6,355.7 43.6,358.9 45.2,358.9 45.2,361.6 46.8,361.6 46.8,365.3 48.4,365.3 48.4,368.1 50,368.1 50,371.6 51.6,371.6 51.6,373.3 53.2,373.3 53.2,375.7 54.8,375.7 54.8,377.8 56.4,377.8 56.4,381.3 58,381.3 58,386.1 59.6,386.1 59.6,388.9 60,388.9 60,389.3Z" fill="#000"/>
<line x1="276.3" y1="245.3" x2="276.3" y2="389" stroke="#444" stroke-width="1.0"/>
<line x1="279.6" y1="238.7" x2="279.6" y2="373.4" stroke="#444" stroke-width="1.0"/>
<line x1="281.9" y1="234.7" x2="281.9" y2="358.9" stroke="#444" stroke-width="1.0"/>
<line x1="286.3" y1="222.9" x2="286.3" y2="345" stroke="#444" stroke-width="1.0"/>
<line x1="290.8" y1="219.9" x2="290.8" y2="335.8" stroke="#444" stroke-width="1.0"/>
<line x1="277.1" y1="389.2" x2="481.9" y2="389.2" stroke="#000" stroke-width="1.9"/>
<line x1="279.3" y1="373.4" x2="480" y2="373.4" stroke="#111" stroke-width="1.1"/>
<line x1="281.5" y1="358.9" x2="478.8" y2="358.9" stroke="#111" stroke-width="1.1"/>
<line x1="285.9" y1="345" x2="476.5" y2="345" stroke="#111" stroke-width="1.1"/>
<line x1="290.4" y1="335.8" x2="475.3" y2="335.8" stroke="#111" stroke-width="1.1"/>
<line x1="277.1" y1="389.2" x2="290.4" y2="335.8" stroke="#222" stroke-width="1.0"/>
<line x1="481.9" y1="390" x2="475.3" y2="335.8" stroke="#222" stroke-width="1.0"/>
<line x1="330.8" y1="389.2" x2="334.5" y2="335.8" stroke="#222" stroke-width="0.9"/>
<line x1="381.5" y1="389.2" x2="384" y2="335.8" stroke="#222" stroke-width="0.9"/>
<line x1="429.5" y1="389.2" x2="428.5" y2="335.8" stroke="#222" stroke-width="0.9"/>
<path d="M309,335.8 309,335.1 310.6,335.1 310.6,333.8 312.2,333.8 312.2,332.4 313.8,332.4 313.8,331.1 315.4,331.1 315.4,329.4 317,329.4 317,328.4 318.6,328.4 318.6,325.8 320.2,325.8 320.2,324.8 321.8,324.8 321.8,324.2 323.4,324.2 323.4,323.6 325,323.6 325,323.7 326.6,323.7 326.6,321.6 328.2,321.6 328.2,320.6 329.8,320.6 329.8,318.9 331.4,318.9 331.4,318.3 333,318.3 333,316.9 334.6,316.9 334.6,317.9 336.2,317.9 336.2,316.4 337.8,316.4 337.8,314.3 339.4,314.3 339.4,313.4 341,313.4 341,312.9 342.6,312.9 342.6,311.9 344.2,311.9 344.2,311.3 345.8,311.3 345.8,310.1 347.4,310.1 347.4,309.3 349,309.3 349,310.5 350.6,310.5 350.6,313 352.2,313 352.2,313.1 353.8,313.1 353.8,311.5 355.4,311.5 355.4,309.5 357,309.5 357,307.2 358.6,307.2 358.6,306.6 360.2,306.6 360.2,305.9 361.8,305.9 361.8,303.9 363.4,303.9 363.4,302.6 365,302.6 365,300.3 366.6,300.3 366.6,298.7 368.2,298.7 368.2,297.7 369.8,297.7 369.8,296.9 371.4,296.9 371.4,295.6 373,295.6 373,295.2 374.6,295.2 374.6,293.1 376.2,293.1 376.2,293.2 377.8,293.2 377.8,293.2 379.4,293.2 379.4,293.6 381,293.6 381,296.3 382.6,296.3 382.6,297.2 384.2,297.2 384.2,298.6 385.8,298.6 385.8,302.4 387.4,302.4 387.4,305.4 389,305.4 389,309.9 390.6,309.9 390.6,315.3 392.2,315.3 392.2,316.6 393.8,316.6 393.8,318.1 395.4,318.1 395.4,319 397,319 397,320.5 398.6,320.5 398.6,322.4 400.2,322.4 400.2,322.4 401.8,322.4 401.8,323.2 403.4,323.2 403.4,324.2 405,324.2 405,326.1 406.6,326.1 406.6,327 408.2,327 408.2,328.3 409.8,328.3 409.8,330.1 411.4,330.1 411.4,331 413,331 413,333.6 414.6,333.6 414.6,335 415.2,335 415.2,335.8ZM285.9,345 285.9,345 287.5,345 287.5,345 289.1,345 289.1,345 290.7,345 290.7,345 292.3,345 292.3,345 293.9,345 293.9,345 295.5,345 295.5,345 297.1,345 297.1,345 298.7,345 298.7,345 300.3,345 300.3,345 301.9,345 301.9,345 303.5,345 303.5,345 305.1,345 305.1,342.7 306.7,342.7 306.7,340.7 308.3,340.7 308.3,337.1 309.9,337.1 309.9,335.3 311.5,335.3 311.5,334.7 313.1,334.7 313.1,335 314.7,335 314.7,334.5 316.3,334.5 316.3,334.8 317.9,334.8 317.9,335.5 319.5,335.5 319.5,335.4 321.1,335.4 321.1,335.1 322.7,335.1 322.7,335.3 324.3,335.3 324.3,335.4 325.9,335.4 325.9,334.8 327.5,334.8 327.5,335.5 329.1,335.5 329.1,334.9 330.7,334.9 330.7,334.7 332.3,334.7 332.3,335 333.9,335 333.9,335.1 335.5,335.1 335.5,335.2 337.1,335.2 337.1,335.2 338.7,335.2 338.7,334.5 340.3,334.5 340.3,335.1 341.9,335.1 341.9,335.4 343.5,335.4 343.5,335.2 345.1,335.2 345.1,335.5 346.7,335.5 346.7,335 348.3,335 348.3,335.3 349.9,335.3 349.9,334.6 351.5,334.6 351.5,335.4 353.1,335.4 353.1,334.9 354.7,334.9 354.7,335.4 356.3,335.4 356.3,334.8 357.9,334.8 357.9,335.1 359.5,335.1 359.5,335.3 361.1,335.3 361.1,335.2 362.7,335.2 362.7,335.1 364.3,335.1 364.3,335.5 365.9,335.5 365.9,334.6 367.5,334.6 367.5,334.6 369.1,334.6 369.1,335.1 370.7,335.1 370.7,335.5 372.3,335.5 372.3,335.2 373.9,335.2 373.9,334.8 375.5,334.8 375.5,334.6 377.1,334.6 377.1,334.9 378.7,334.9 378.7,335 380.3,335 380.3,335 381.9,335 381.9,335.1 383.5,335.1 383.5,334.8 385.1,334.8 385.1,335.4 386.7,335.4 386.7,337.1 388.3,337.1 388.3,338 389.9,338 389.9,339.4 391.5,339.4 391.5,341.4 393.1,341.4 393.1,341.8 394.7,341.8 394.7,343.1 396.3,343.1 396.3,344.5 397,344.5 397,345ZM282,358.9 282,358 283.6,358 283.6,356.6 285.2,356.6 285.2,354.2 286.8,354.2 286.8,352.8 288.4,352.8 288.4,350.2 290,350.2 290,349.2 291.6,349.2 291.6,346.7 293.2,346.7 293.2,344.8 294.8,344.8 294.8,344.2 296.4,344.2 296.4,344.5 298,344.5 298,344.5 299.6,344.5 299.6,344.3 301.2,344.3 301.2,344.4 302.8,344.4 302.8,344.5 304.4,344.5 304.4,344.1 306,344.1 306,343.6 307.6,343.6 307.6,344.3 309.2,344.3 309.2,343.9 310.8,343.9 310.8,343.8 312.4,343.8 312.4,344 314,344 314,343.5 315.6,343.5 315.6,343.5 317.2,343.5 317.2,343.8 318.8,343.8 318.8,344.1 320.4,344.1 320.4,344.2 322,344.2 322,344.5 323.6,344.5 323.6,344.3 325.2,344.3 325.2,344.4 326.8,344.4 326.8,344.1 328.4,344.1 328.4,344.2 330,344.2 330,344.1 331.6,344.1 331.6,343.6 333.2,343.6 333.2,343.6 334.8,343.6 334.8,344.3 336.4,344.3 336.4,343.7 338,343.7 338,344.3 339.6,344.3 339.6,344 341.2,344 341.2,343.5 342.8,343.5 342.8,344.1 344.4,344.1 344.4,343.9 346,343.9 346,343.6 347.6,343.6 347.6,343.8 349.2,343.8 349.2,343.8 350.8,343.8 350.8,343.8 352.4,343.8 352.4,344.2 354,344.2 354,343.7 355.6,343.7 355.6,343.9 357.2,343.9 357.2,344.1 358.8,344.1 358.8,344.4 360.4,344.4 360.4,343.6 362,343.6 362,343.6 363.6,343.6 363.6,343.7 365.2,343.7 365.2,343.7 366.8,343.7 366.8,343.7 368.4,343.7 368.4,343.6 370,343.6 370,343.7 371.6,343.7 371.6,345.5 373.2,345.5 373.2,347.6 374.8,347.6 374.8,349 376.4,349 376.4,351.1 378,351.1 378,352.7 379.6,352.7 379.6,355.4 381.2,355.4 381.2,357.4 382.8,357.4 382.8,358.7 383,358.7 383,358.9ZM279.3,373.4 279.3,372.6 280.9,372.6 280.9,370.7 282.5,370.7 282.5,368.9 284.1,368.9 284.1,367.5 285.7,367.5 285.7,366.3 287.3,366.3 287.3,364.4 288.9,364.4 288.9,362.2 290.5,362.2 290.5,360.4 292.1,360.4 292.1,358.8 293.7,358.8 293.7,357.5 295.3,357.5 295.3,356.9 296.9,356.9 296.9,357.2 298.5,357.2 298.5,356.6 300.1,356.6 300.1,356.8 301.7,356.8 301.7,357.2 303.3,357.2 303.3,357.1 304.9,357.1 304.9,357 306.5,357 306.5,357.4 308.1,357.4 308.1,356.6 309.7,356.6 309.7,356.7 311.3,356.7 311.3,357.1 312.9,357.1 312.9,357.1 314.5,357.1 314.5,357.5 316.1,357.5 316.1,357.5 317.7,357.5 317.7,357.1 319.3,357.1 319.3,357.3 320.9,357.3 320.9,357.2 322.5,357.2 322.5,356.6 324.1,356.6 324.1,357.1 325.7,357.1 325.7,356.8 327.3,356.8 327.3,356.9 328.9,356.9 328.9,356.7 330.5,356.7 330.5,356.5 332.1,356.5 332.1,357.4 333.7,357.4 333.7,357.2 335.3,357.2 335.3,357.3 336.9,357.3 336.9,356.8 338.5,356.8 338.5,356.9 340.1,356.9 340.1,356.7 341.7,356.7 341.7,357.1 343.3,357.1 343.3,357.3 344.9,357.3 344.9,357.3 346.5,357.3 346.5,361.2 348.1,361.2 348.1,362.1 349.7,362.1 349.7,363.8 351.3,363.8 351.3,364.2 352.9,364.2 352.9,365.4 354.5,365.4 354.5,365.9 356.1,365.9 356.1,367.5 357.7,367.5 357.7,368.7 359.3,368.7 359.3,369.6 360.9,369.6 360.9,370.7 362.5,370.7 362.5,372.3 364,372.3 364,373.4ZM277.1,389.2 277.1,354.5 278.7,354.5 278.7,348.5 280.3,348.5 280.3,341.9 281.9,341.9 281.9,336.2 283.5,336.2 283.5,331.6 285.1,331.6 285.1,326.7 286.7,326.7 286.7,322.4 288.3,322.4 288.3,318.8 289.9,318.8 289.9,317.6 291.5,317.6 291.5,317 293.1,317 293.1,316.3 294.7,316.3 294.7,316.8 296.3,316.8 296.3,318.4 297.9,318.4 297.9,322 299.5,322 299.5,331.8 301.1,331.8 301.1,339 302.7,339 302.7,344.3 304.3,344.3 304.3,346.8 305.9,346.8 305.9,350.7 307.5,350.7 307.5,355.7 309.1,355.7 309.1,359.6 310.7,359.6 310.7,362 312.3,362 312.3,364.6 313.9,364.6 313.9,367.6 315.5,367.6 315.5,370.4 317.1,370.4 317.1,372.6 318.7,372.6 318.7,374.8 320.3,374.8 320.3,375.5 321.9,375.5 321.9,377.1 323.5,377.1 323.5,377.9 325.1,377.9 325.1,380.3 326.7,380.3 326.7,382.6 328.3,382.6 328.3,385.5 329.9,385.5 329.9,387.8 331,387.8 331,389.2Z" fill="#000"/>
<text x="330.6" y="27" font-size="23.5" font-weight="bold" stroke="#000" stroke-width="0.6" textLength="15.8" lengthAdjust="spacingAndGlyphs">C</text>
<text x="352.4" y="22.3" font-size="15.2" font-weight="bold" stroke="#000" stroke-width="0.35" textLength="63.4" lengthAdjust="spacingAndGlyphs">Necrotic</text>
<text x="449.2" y="34.6" font-size="9.3" font-weight="bold" stroke="#000" stroke-width="0.15" textLength="66.5" lengthAdjust="spacingAndGlyphs">[FITC-heparin]</text>
<text x="479" y="85.2" font-size="9.6" font-weight="bold" stroke="#000" stroke-width="0.12" textLength="38.6" lengthAdjust="spacingAndGlyphs">5000 nM</text>
<text x="481" y="101" font-size="9.6" font-weight="bold" stroke="#000" stroke-width="0.12" textLength="32.6" lengthAdjust="spacingAndGlyphs">500 nM</text>
<text x="482.4" y="115.2" font-size="9.6" font-weight="bold" stroke="#000" stroke-width="0.12" textLength="27.2" lengthAdjust="spacingAndGlyphs">50 nM</text>
<text x="484.4" y="129.6" font-size="9.6" font-weight="bold" stroke="#000" stroke-width="0.12" textLength="21.6" lengthAdjust="spacingAndGlyphs">5 nM</text>
<text x="486" y="146.2" font-size="9.6" font-weight="bold" stroke="#000" stroke-width="0.12" textLength="31.2" lengthAdjust="spacingAndGlyphs">0.5 nM</text>
<text x="265.1" y="161.3" font-size="12.8" stroke="#000" stroke-width="0.2">10<tspan font-size="8" dy="-4.6">0</tspan></text>
<text x="314.5" y="161.3" font-size="12.8" stroke="#000" stroke-width="0.2">10<tspan font-size="8" dy="-4.6">1</tspan></text>
<text x="365" y="161.3" font-size="12.8" stroke="#000" stroke-width="0.2">10<tspan font-size="8" dy="-4.6">2</tspan></text>
<text x="418.6" y="161.3" font-size="12.8" stroke="#000" stroke-width="0.2">10<tspan font-size="8" dy="-4.6">3</tspan></text>
<text x="471.4" y="161.3" font-size="12.8" stroke="#000" stroke-width="0.2">10<tspan font-size="8" dy="-4.6">4</tspan></text>
<text x="290.3" y="176.7" font-size="12.4" stroke="#000" stroke-width="0.2" textLength="184.6" lengthAdjust="spacingAndGlyphs">Relative Fluorescence Intensity</text>
<text x="102.5" y="270.6" font-size="24" font-weight="bold" stroke="#000" stroke-width="0.6" textLength="17.3" lengthAdjust="spacingAndGlyphs">A</text>
<text x="123.1" y="263.5" font-size="13.5" font-weight="bold" stroke="#000" stroke-width="0.35" textLength="27.7" lengthAdjust="spacingAndGlyphs">Live</text>
<text x="181.3" y="316.5" font-size="9.3" font-weight="bold" stroke="#000" stroke-width="0.15" textLength="66.5" lengthAdjust="spacingAndGlyphs">[FITC-heparin]</text>
<text x="218.1" y="341.2" font-size="9.6" font-weight="bold" stroke="#000" stroke-width="0.12" textLength="37.7" lengthAdjust="spacingAndGlyphs">5000 nM</text>
<text x="219.8" y="353.3" font-size="9.6" font-weight="bold" stroke="#000" stroke-width="0.12" textLength="32.4" lengthAdjust="spacingAndGlyphs">500 nM</text>
<text x="220.9" y="365.6" font-size="9.6" font-weight="bold" stroke="#000" stroke-width="0.12" textLength="27.1" lengthAdjust="spacingAndGlyphs">50 nM</text>
<text x="221.9" y="377.2" font-size="9.6" font-weight="bold" stroke="#000" stroke-width="0.12" textLength="21.1" lengthAdjust="spacingAndGlyphs">5 nM</text>
<text x="223" y="389.5" font-size="9.6" font-weight="bold" stroke="#000" stroke-width="0.12" textLength="30" lengthAdjust="spacingAndGlyphs">0.5 nM</text>
<text x="3.8" y="403.8" font-size="12.8" stroke="#000" stroke-width="0.2">10<tspan font-size="8" dy="-4.6">0</tspan></text>
<text x="57.5" y="403.8" font-size="12.8" stroke="#000" stroke-width="0.2">10<tspan font-size="8" dy="-4.6">1</tspan></text>
<text x="109.5" y="403.8" font-size="12.8" stroke="#000" stroke-width="0.2">10<tspan font-size="8" dy="-4.6">2</tspan></text>
<text x="155" y="403.8" font-size="12.8" stroke="#000" stroke-width="0.2">10<tspan font-size="8" dy="-4.6">3</tspan></text>
<text x="206.3" y="403.8" font-size="12.8" stroke="#000" stroke-width="0.2">10<tspan font-size="8" dy="-4.6">4</tspan></text>
<text x="25.1" y="420" font-size="12.4" stroke="#000" stroke-width="0.2" textLength="184.6" lengthAdjust="spacingAndGlyphs">Relative Fluorescence Intensity</text>
<text x="335.2" y="262.5" font-size="23.6" font-weight="bold" stroke="#000" stroke-width="0.6" textLength="16.2" lengthAdjust="spacingAndGlyphs">B</text>
<text x="355" y="255.4" font-size="13.4" font-weight="bold" stroke="#000" stroke-width="0.35" textLength="67.1" lengthAdjust="spacingAndGlyphs">Apoptotic</text>
<text x="447" y="314.6" font-size="9.3" font-weight="bold" stroke="#000" stroke-width="0.15" textLength="66.5" lengthAdjust="spacingAndGlyphs">[FITC-heparin]</text>
<text x="478.8" y="339.1" font-size="9.6" font-weight="bold" stroke="#000" stroke-width="0.12" textLength="38.4" lengthAdjust="spacingAndGlyphs">5000 nM</text>
<text x="480.5" y="349.7" font-size="9.6" font-weight="bold" stroke="#000" stroke-width="0.12" textLength="32.9" lengthAdjust="spacingAndGlyphs">500 nM</text>
<text x="482.4" y="362.6" font-size="9.6" font-weight="bold" stroke="#000" stroke-width="0.12" textLength="27.7" lengthAdjust="spacingAndGlyphs">50 nM</text>
<text x="484.2" y="375.4" font-size="9.6" font-weight="bold" stroke="#000" stroke-width="0.12" textLength="21.2" lengthAdjust="spacingAndGlyphs">5 nM</text>
<text x="485.4" y="388.3" font-size="9.6" font-weight="bold" stroke="#000" stroke-width="0.12" textLength="30.4" lengthAdjust="spacingAndGlyphs">0.5 nM</text>
<text x="270" y="403.8" font-size="12.8" stroke="#000" stroke-width="0.2">10<tspan font-size="8" dy="-4.6">0</tspan></text>
<text x="321.3" y="403.8" font-size="12.8" stroke="#000" stroke-width="0.2">10<tspan font-size="8" dy="-4.6">1</tspan></text>
<text x="372.5" y="403.8" font-size="12.8" stroke="#000" stroke-width="0.2">10<tspan font-size="8" dy="-4.6">2</tspan></text>
<text x="420" y="403.8" font-size="12.8" stroke="#000" stroke-width="0.2">10<tspan font-size="8" dy="-4.6">3</tspan></text>
<text x="472.5" y="403.8" font-size="12.8" stroke="#000" stroke-width="0.2">10<tspan font-size="8" dy="-4.6">4</tspan></text>
<text x="291.3" y="418.8" font-size="12.4" stroke="#000" stroke-width="0.2" textLength="184.6" lengthAdjust="spacingAndGlyphs">Relative Fluorescence Intensity</text>
</svg></body></html>
